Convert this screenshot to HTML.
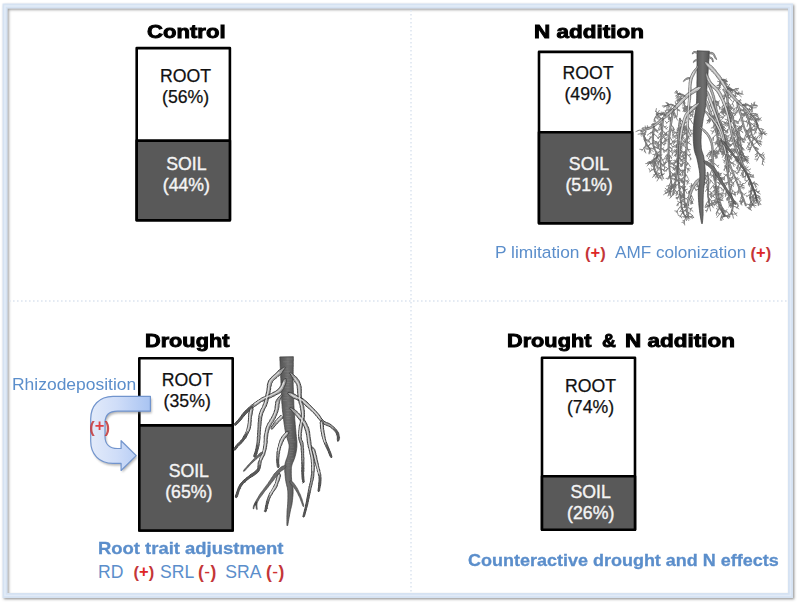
<!DOCTYPE html>
<html><head><meta charset="utf-8">
<style>
html,body{margin:0;padding:0;background:#fff;}
body{width:800px;height:606px;position:relative;overflow:hidden;font-family:"Liberation Sans",sans-serif;}
svg.ov{position:absolute;left:0;top:0;}
.t{position:absolute;white-space:nowrap;line-height:1;}
.lbl{font-size:17.7px;color:#111;text-align:center;line-height:21px;-webkit-text-stroke:0.25px #111;}
.lblw{color:#f4f4f4;-webkit-text-stroke:0.4px #f4f4f4;}
.title{font-weight:bold;font-size:18.5px;color:#000;-webkit-text-stroke:0.9px #000;transform-origin:0 0;}
.blue{color:#5b8ecb;font-size:16.9px;}
.b{font-weight:bold;font-size:17px;transform-origin:0 0;-webkit-text-stroke:0.3px #5b8ecb;}
.red{color:#c43638;font-weight:bold;font-size:16.5px;}
.red i{font-style:normal;position:relative;top:-1.6px;color:#de2626;}
.red u{text-decoration:none;font-weight:normal;color:#d03030;}
</style></head><body>
<svg class="ov" width="800" height="606" viewBox="0 0 800 606">
<defs><filter id="fsh" x="-2%" y="-2%" width="104%" height="104%"><feDropShadow dx="1.3" dy="1.3" stdDeviation="1" flood-color="#555" flood-opacity="0.6"/></filter></defs>
<rect x="5" y="6" width="785.5" height="589.5" fill="none" stroke="#d5e2f2" stroke-width="5" filter="url(#fsh)"/>
<rect x="5" y="6" width="785.5" height="589.5" fill="none" stroke="#e2ebf7" stroke-width="1.6"/>
<g stroke="#dbe4ef" stroke-width="1.5" stroke-dasharray="1.6 2.4" fill="none">
<path d="M411 10V594"/><path d="M9 301H789"/>
</g>
<g id="boxes" stroke="#000" stroke-width="2.6" stroke-linejoin="round">
<rect x="136.7" y="48.1" width="93.2" height="172.1" fill="#fff"/>
<rect x="136.7" y="140.6" width="93.2" height="79.6" fill="#595959"/>
<rect x="539" y="51.9" width="93.1" height="171.3" fill="#fff"/>
<rect x="539" y="132.2" width="93.1" height="91" fill="#595959"/>
<rect x="139.3" y="358.3" width="93.4" height="172.2" fill="#fff"/>
<rect x="139.3" y="425.4" width="93.4" height="105.1" fill="#595959"/>
<rect x="542" y="357.7" width="93" height="172" fill="#fff"/>
<rect x="542" y="476.2" width="93" height="53.5" fill="#595959"/>
</g>
<g id="arrow">
<defs>
<linearGradient id="ag" x1="90" y1="0" x2="150" y2="0" gradientUnits="userSpaceOnUse">
<stop offset="0" stop-color="#e3ebfa"/><stop offset="0.45" stop-color="#cfddf8"/><stop offset="1" stop-color="#a9c4f2"/>
</linearGradient>
<filter id="ash" x="-20%" y="-20%" width="150%" height="150%"><feGaussianBlur stdDeviation="1.3"/></filter>
</defs>
<path id="ap" d="M150.4 396.3H113C99 396.3 90.7 406 90.7 419V441C90.7 454 99 463.4 113 463.4H121.1V470.5L136.2 455.6L121.1 440.7V448.5H117.5C109.5 448.5 105 444 105 436.5V423C105 415.5 109.5 411.2 117.5 411.2H150.4Z" fill="#777" opacity="0.55" transform="translate(1.2 2)" filter="url(#ash)"/>
<path d="M150.4 396.3H113C99 396.3 90.7 406 90.7 419V441C90.7 454 99 463.4 113 463.4H121.1V470.5L136.2 455.6L121.1 440.7V448.5H117.5C109.5 448.5 105 444 105 436.5V423C105 415.5 109.5 411.2 117.5 411.2H150.4Z" fill="url(#ag)" stroke="#7194cd" stroke-width="1.2" stroke-linejoin="round"/>
</g>
<linearGradient id="tgN" x1="694" y1="0" x2="710" y2="0" gradientUnits="userSpaceOnUse"><stop offset="0" stop-color="#545454"/><stop offset="0.55" stop-color="#707070"/><stop offset="1" stop-color="#525252"/></linearGradient><g id="rootN"><path d="M683.8 98.9L684.3 102.6M684.3 102.6L684.9 107.1M684.8 105.9L687.3 107.1M683.8 98.9L680.8 99.2M680.8 99.2L677.9 100.4M680.4 99.8L679.2 102.4M678.7 100.2L677.6 101.4M679.6 100L678.9 98.1M683.8 98.9L683.4 102M683.4 102L683 105.8M683.3 103.4L685.3 105.2M683.8 98.9L680.5 99M680.5 99L677.3 100.1M681.5 99.4L680.1 96.7M683.8 98.9L681.3 99.3M681.3 99.3L678.8 100.3M680.3 99.9L679.2 101.2M682 99.4L680.8 100.4M683.8 98.9L681.8 99.2M681.8 99.2L679.8 100M681.8 99.5L680.3 101.7M681.4 99.6L680.2 101.5M680.5 99.8L680.2 97.7M683.8 98.9L684.1 101.4M684.1 101.4L684.5 104.5M684.2 101.9L685.4 103M681.6 101.2L679.3 100.1M679.3 100.1L677 99.8M677.9 100.1L675.6 101.2M679.4 103.5L677.5 103.5M677.5 103.5L675.6 104M676 104L675.2 102.1M678.1 103.7L677.7 101.4M677.3 105.8L677.3 109.9M677.3 109.9L677.4 115M677.3 109L679.8 110.3M677.3 109.9L679.8 111M675.1 108L672 108.7M672 108.7L668.9 110.3M671.3 109.4L670 111.6M670.4 109.7L669.4 112.5M670.2 109.8L669.6 111.5M672.8 110.1L674.7 113.2M674.7 113.2L676.6 117.3M674.4 113.1L673.3 115.1M676.1 116.3L675 117.5M670.4 112.3L667.8 112.3M667.8 112.3L665.3 113.2M666.3 113L665.2 110.4M668.8 112.6L668.1 109.8M666.6 112.9L665 114.5M667.9 114.4L669.5 117.6M669.5 117.6L671.1 121.6M669.5 118.1L671.2 117.5M669 116.8L668.5 119.7M666.6 115.5L664.5 114.1M664.5 114.1L662.4 113.5M665.1 114.8L663.7 115.2M662.9 113.8L660.8 114.6M663.1 118.5L660.9 118.7M660.9 118.7L658.7 119.6M660.6 119.1L660.1 117.2M660.8 119L658.7 116.8M660 121L660.6 124.8M660.6 124.8L661.1 129.5M660.4 123.9L662.7 125.7M660.9 127.4L662.6 128M660.6 125.8L662.6 126.2M655.8 124.5L654.2 123.8M654.2 123.8L652.6 123.7M654.9 124.3L652.1 124.7M654 124L651.9 125M653.7 124L651.3 125M653.4 126.2L653.6 130.3M653.6 130.3L653.7 135.4M653.6 131.6L650.7 132.5M653.7 133.8L652.5 135.1M653.5 129.2L655.8 130.6M650.5 127.7L648.7 127.3M648.7 127.3L646.9 127.4M647.4 127.5L647.4 125.7M648.8 128.4L645.6 127.7M645.6 127.7L642.5 128M643.6 128.1L641.9 128.6M645.4 128.2L645.2 126M643.4 130.2L642.7 132.9M642.7 132.9L641.9 136.3M642.6 133.5L640.7 134.8M642.8 132.9L645.5 134.5M642 130.7L640 130.2M640 130.2L637.9 130.5M638.6 130.5L635.9 131.6M682.5 126.5L680.3 128.9M680.3 128.9L678 132.2M678.9 131.1L676.6 130M679.4 130.5L679 132.2M682.5 126.5L685.8 128.4M685.8 128.4L689 131.3M685.5 128.7L686.6 130.2M684.9 128.2L686.9 127.1M686.3 129.2L687.8 128.6M682.5 126.5L684.4 128.5M684.4 128.5L686.3 131.2M684.2 128.6L686.8 128.3M685.3 129.9L684.2 132.5M682.5 126.5L680 128.4M680 128.4L677.5 131.1M681.1 127.8L679.2 125.8M682.5 126.5L680 127.7M680 127.7L677.5 129.7M678.6 129.1L678.2 130.7M682.5 126.5L684.8 127.8M684.8 127.8L687.1 129.8M685.3 128.5L687 126.9M683.7 127.3L685.3 125.3M682.5 126.5L680.9 127.8M680.9 127.8L679.3 129.6M681.2 127.8L681.6 130.5M679.6 129.3L678.2 128.5M682.5 126.5L680.3 128.9M680.3 128.9L678.1 132.1M681.2 128.2L678.6 128.1M682.5 126.5L683.8 129.3M683.8 129.3L685 132.9M683.6 129.2L686.2 129M683.6 129.3L682.5 131.3M682.5 126.5L680.3 127.5M680.3 127.5L678.1 129.2M678.7 128.8L677.2 128.2M681.6 131.4L683.9 132.5M683.9 132.5L686.3 134.4M683 132.3L684.8 134.8M681 135L677.9 136.8M677.9 136.8L674.8 139.7M678 137.3L676.2 136M678.8 136.6L677.6 134.8M676.5 138.4L674.8 137.3M680.5 139.2L677.3 140.5M677.3 140.5L674.2 142.7M675 142.2L673.3 144.7M680.3 140.7L683 143.7M683 143.7L685.6 147.8M681.9 142.8L680.5 145.4M682.6 143.8L683.1 146.3M682.2 143.2L681 145.2M680 143.8L676.7 144.6M676.7 144.6L673.4 146.4M676.7 145.1L676 147.8M678.2 144.5L677.1 142.2M677.8 144.7L677.3 143.2M679.8 147L677.7 148.6M677.7 148.6L675.5 150.8M678 148.6L676.4 147.1M678.1 148.6L676.6 147.7M679.6 148.6L682.2 151.1M682.2 151.1L684.8 154.5M681.7 150.9L680.9 153M682.8 152.2L684.8 151.8M681.2 150.5L681.7 153.3M679.5 150.3L677.1 151M677.1 151L674.7 152.5M676.6 151.6L674.7 149.6M676.7 151.5L675.7 150.1M676.7 151.5L676.1 153.1M679.3 151.9L676.9 153.1M676.9 153.1L674.5 155.1M675.5 154.5L675.5 156.2M676.8 153.6L674.9 151.1M679 155L682.3 156.5M682.3 156.5L685.5 159.1M684.3 158.3L685.5 155.7M681.6 156.6L684.3 155.2M683.7 157.9L684 159.5M678.8 156.5L676.8 158.9M676.8 158.9L674.8 162.2M676.1 160.3L676.1 162.9M678.7 158.1L680.4 159.2M680.4 159.2L682.2 160.9M680.7 159.8L680.9 161.7M681.4 160.3L683 163M678.3 161.2L676.1 161.8M676.1 161.8L674 163.2M676.6 162L674.5 160.2M676.4 162.1L673.7 160.6M675.4 162.5L673.5 164.4M677.9 164.2L676.3 166.4M676.3 166.4L674.7 169.3M676.4 166.7L676.8 169.5M675.6 167.9L676.2 170.2M677.7 165.8L679.3 168.3M679.3 168.3L680.9 171.6M680.1 170.1L679.6 172.6M680.4 170.6L683.5 170.4M677.2 170.4L674.4 173.1M674.4 173.1L671.6 176.9M674.3 173.8L674.8 175.9M676.7 173.5L673.3 174.8M673.3 174.8L669.8 177.2M673.5 175.2L672.2 174.3M676 178.3L677.6 180.4M677.6 180.4L679.2 183.2M677 179.9L679.1 180.1M675.7 180L677.7 181M677.7 181L679.7 182.7M678.7 182L679.4 183.5M678.6 181.9L679.5 183.5M675.4 181.8L673.6 184M673.6 184L671.8 187M672.7 185.7L672.3 187.9M672.6 185.8L672.2 188.5M672.4 186.1L670.4 185.9M674.4 187.1L671.5 188.1M671.5 188.1L668.6 189.9M671.8 188.4L671.4 189.9M672.1 188.2L670 185.9M674.1 188.8L676 191.1M676 191.1L677.9 194.2M675.5 190.8L674.3 193.4M677 192.9L676.1 195.7M673.9 190.3L671.3 191.5M671.3 191.5L668.7 193.5M670.1 192.7L668.8 195M671 192.1L670.1 195.2M673 195L671.4 196.4M671.4 196.4L669.8 198.3M671.3 196.7L670.1 195.4M688.8 106.1L686.5 107.4M686.5 107.4L684.2 109.3M687.1 107.3L686.3 109.5M684.9 108.9L682.3 107.9M685.3 108.6L684.3 107.2M688.8 106.1L687.1 107.3M687.1 107.3L685.5 109M687.1 107.6L687.6 110.1M686.1 108.4L686 111.4M687.6 107.2L684.6 106.2M688.8 106.1L690.9 109.5M690.9 109.5L693 114M689.9 108.3L692.5 107.9M688.8 106.1L685.9 108.2M685.9 108.2L683 111.3M684.9 109.6L684.4 111.8M684.9 109.6L683.3 108.8M688.8 106.1L690.8 108.1M690.8 108.1L692.8 110.9M691.8 109.8L694.6 108.8M690.8 108.6L691.4 110.7M690 107.6L691.5 107.1M688.8 106.1L686.3 108.4M686.3 108.4L683.8 111.6M687.4 107.7L685 106.6M688.8 106.1L690.3 109M690.3 109L691.9 112.8M691.2 111.3L690.8 113.3M691.2 111.3L692.7 110.9M690.3 109.3L692.3 108.9M688.8 106.1L686.8 107.5M686.8 107.5L684.9 109.6M687.3 107.5L686.7 109.4M687.7 107.1L686.8 109.5M688.8 106.1L691.1 108.8M691.1 108.8L693.5 112.4M690.3 108.2L689.8 111.3M691.3 109.6L693.2 109M688.8 106.1L686.4 107.1M686.4 107.1L684.1 108.9M684.6 108.6L683.2 107M687.4 106.9L686.3 108.7M688.8 106.1L692 107.4M692 107.4L695.2 109.7M694.1 109.1L695.2 107.6M691.6 107.7L692.2 110M694.1 109.1L696.3 107.9M688.8 106.1L686.7 107.4M686.7 107.4L684.5 109.4M686.7 107.7L684.4 106.7M687.2 107.4L685.8 106.2M687.7 107L687.8 109.2M688.8 106.1L690.8 107.6M690.8 107.6L692.7 109.7M692.3 109.2L693.3 111.5M691.3 108.3L691.3 110.3M688.8 106.1L690.8 108M690.8 108L692.9 110.6M690.2 107.7L691.3 106.7M688.6 107.6L687.1 109.5M687.1 109.5L685.6 112M686.6 110.5L683.9 109.5M687.5 109.2L685 108.9M685.9 111.5L683.4 110.4M688.3 112.4L690.7 113.9M690.7 113.9L693.1 116.1M691.5 114.9L693.3 114.2M691.5 114.9L692.8 117.2M690.3 114L690.7 116.6M688.1 116.9L690.5 119.9M690.5 119.9L693 123.9M689.6 119.1L691.4 118.6M687.8 121.8L684.8 122.6M684.8 122.6L681.7 124.4M685.5 122.8L684.4 124.6M682.9 123.9L682.2 121.7M687.6 125.1L689.5 128.6M689.5 128.6L691.4 133.2M690 130.1L692.1 130.4M687.6 126.7L686.3 128.3M686.3 128.3L684.9 130.5M686.7 127.9L684.1 126.2M687.4 130L689.2 132.8M689.2 132.8L691 136.5M689.9 134.6L692.8 133.7M687.3 133L684.6 133.8M684.6 133.8L681.9 135.3M685.7 133.7L685.1 132.1M685.2 133.9L683 136.1M682.7 135L681.9 137.7M687.2 134.5L688.3 136.5M688.3 136.5L689.5 139M688.1 136.2L687.7 138.1M688.3 136.7L690.8 135.5M688.3 136.7L687.7 139.6M687 137.6L684.9 139.4M684.9 139.4L682.8 142M685 139.7L685.4 142.4M687 139.2L685 141.2M685 141.2L683 144M685.5 141L685.9 142.5M684.7 141.9L685 145.1M684.4 142.2L682.5 140.6M686.8 142.3L688.9 143.1M688.9 143.1L691 144.6M688.2 143L689.6 141.1M686.6 146.9L688 149.2M688 149.2L689.4 152.2M688 149.6L690.2 149.6M686.4 150L684.4 152M684.4 152L682.4 154.7M684.1 152.7L684 155.8M685.1 151.6L685.4 153.6M684.5 152.2L681.9 151.9M686.2 153.1L688.7 155.6M688.7 155.6L691.2 159M688.2 155.4L690.5 154.9M688.3 155.6L690.6 154.1M690.6 158.3L690.2 160M686.1 154.6L683.1 155.3M683.1 155.3L680.1 157M683.9 155.5L683.1 157.4M685.9 157.7L683.4 158.8M683.4 158.8L681 160.7M684.3 158.7L683.4 157M685.6 160.8L688.1 163.4M688.1 163.4L690.5 166.9M687.6 163.2L686.5 165.2M687.3 162.9L687 164.4M687.6 163.3L686.5 166M685.5 162.3L682.7 163.2M682.7 163.2L679.8 165M680.9 164.5L680.3 166.6M682.9 163.5L681.9 166.4M683.2 163.4L682.2 165.1M685.2 166.9L687.4 168.6M687.4 168.6L689.6 171M688.2 169.7L687.6 172.4M687.4 169L688.8 168.2M687.8 169.4L690.1 168.8M685 170L682.3 171.8M682.3 171.8L679.5 174.6M683.6 171.2L681.9 169.5M682.2 172.4L682.8 175.5M683 171.7L682.6 174.4M684.8 173.1L686.5 175.3M686.5 175.3L688.2 178.3M685.7 174.4L685.2 177M684.6 176.2L683 178.3M683 178.3L681.4 181.1M681.9 180.4L682.7 183.5M681.8 180.5L682.2 182.2M684.4 179.3L686.7 181M686.7 181L689 183.5M687.7 182.3L689.2 180.8M687.4 182.1L687.1 184.4M686.4 181.2L688.8 179.6M684.1 184L681.9 186.5M681.9 186.5L679.6 190M682.3 186.5L682.5 188.8M680.7 188.6L679 187.7M682.1 186.7L679.7 186M684 188.5L685.5 190.7M685.5 190.7L687 193.5M684.9 190L683.4 192.4M685 190.2L687.4 189.2M684.1 193.3L682 195.8M682 195.8L679.9 199.1M682.6 195.3L680.5 195.2M682.6 195.3L683.8 197.6M681.1 197.3L682.5 199.6M684.1 195.1L682.1 196M682.1 196L680.1 197.6M682.6 196.1L680.1 195M682.8 195.9L681.1 195.1M682.8 195.9L682.1 198.2M684.3 198.6L682.9 200.4M682.9 200.4L681.5 202.9M682 202.1L679.8 202.5M682.6 201.2L680.6 200.5M682.8 200.8L683.9 202.3M684.6 201.9L685.7 203.6M685.7 203.6L686.9 206M686.6 205.4L688.9 205.4M685.9 204.2L687.6 203.4M685.8 204L688.7 204.5M684.9 206.1L682.3 208.4M682.3 208.4L679.7 211.6M682.6 208.5L680.3 207.7M721 80L724.2 80.3M724.2 80.3L727.3 81.5M725 80.9L725.5 82.5M725.4 81L726.2 78.9M721 80L719.9 82.2M719.9 82.2L718.8 85.1M719.5 83.3L720.5 85.8M721 80L724.2 81.5M724.2 81.5L727.3 84M724.5 82.2L726.4 81M721 80L720.1 83.5M720.1 83.5L719.1 88M719.5 86.4L721 87.7M719.9 84.9L716.9 85.7M720.5 82.3L721 83.7M721 80L723.2 81.1M723.2 81.1L725.4 82.8M723.8 81.8L723.7 84.3M723 81.3L722.9 83.6M722.6 81L723.5 79.1M721 80L720.2 82.8M720.2 82.8L719.3 86.2M719.5 85.4L717.5 85.4M720.5 81.8L717.6 81.3M721.9 81.3L725 82.8M725 82.8L728.1 85.1M725.2 83.3L725.2 85.5M725 83.2L726.6 80.8M724.6 83L725.9 84.5M722.6 82.6L720.5 85.5M720.5 85.5L718.4 89.4M719.3 88L720.2 89.7M719.2 88L717.3 87.2M724.9 86.4L726.9 86.3M726.9 86.3L728.9 86.7M728.3 86.7L729.6 84.3M727.1 86.6L729.3 87.7M725.9 86.5L726.8 84.3M726.8 89.1L726 92.1M726 92.1L725.2 96M725.5 94.8L723.2 95.3M726.2 91.7L727 93.3M727.7 90.2L730.1 90.2M730.1 90.2L732.5 91M731.6 90.8L733.3 92.1M729.2 90.4L729.7 88.7M730.8 90.7L731.5 89.2M729.6 92.7L728.5 95.7M728.5 95.7L727.3 99.7M728.7 95.6L727 95.5M731.8 95.2L733.7 95.1M733.7 95.1L735.6 95.6M733.6 95.4L734.3 96.9M735 98.9L733.5 101.5M733.5 101.5L731.9 104.8M732.5 103.7L733.7 106.1M737.3 101.2L739.2 101.6M739.2 101.6L741.1 102.5M739.5 101.9L741 100.4M738.8 101.7L739.3 100.3M738.8 101.8L740.6 99.4M738.5 102.4L737.4 105.6M737.4 105.6L736.3 109.7M737.9 104.5L738.9 107.4M737 107.5L734.4 108.4M742.3 105.5L744.3 105.6M744.3 105.6L746.2 106.3M744.3 105.9L745.6 103.2M745.6 106.2L746.8 103.6M743.6 106.6L744.1 110M744.1 110L744.6 114.2M744.4 112.9L742.8 115.5M744.4 113L746.7 114.2M747 110.1L749.3 109.4M749.3 109.4L751.6 109.6M749.2 109.8L749.6 108.1M749.5 109.8L751.5 112M748.9 109.9L749.2 108.4M749 112.6L747.6 114.8M747.6 114.8L746.3 117.7M747.7 114.9L748.8 116.3M750 113.9L753.1 113.4M753.1 113.4L756.2 113.8M753.5 113.9L756 115.1M755.5 113.8L758.2 115.6M755.3 113.8L757.4 114.5M751.9 116.6L750.4 118.3M750.4 118.3L748.9 120.6M751.1 117.6L749 116.5M750.3 118.8L748.7 117.9M750.3 118.7L751.2 120.5M754.3 120.1L756.5 120.3M756.5 120.3L758.6 121.1M756 120.5L758.1 118.4M757.4 125L756.9 127.3M756.9 127.3L756.4 130.2M756.7 128.7L754.9 128.8M757.2 126.5L754.2 126.9M756.6 129.4L754.6 130M739.1 108.6L741.6 109.3M741.6 109.3L744.2 110.9M742.7 110.2L744.9 108.7M739.1 108.6L737.3 111M737.3 111L735.5 114.3M737.9 110.4L737.9 112.8M737.7 110.9L734.9 111M739.6 110.3L742 110.4M742 110.4L744.4 111.2M742.7 110.9L743.4 108.8M743.7 111.1L744.8 113M740.6 113.5L743.3 113.9M743.3 113.9L746 115.1M744.8 114.7L745.3 112.7M742.5 114.1L743.4 115.8M741.4 116.6L739.7 119.2M739.7 119.2L738.1 122.6M739.9 119.4L740.1 121.2M742.4 121.1L745 121.3M745 121.3L747.5 122.3M746.4 122L746.6 120.5M743.1 124.1L741.3 125.8M741.3 125.8L739.5 128.2M740.3 127.3L739.7 129.1M741 126.5L741 128.5M741.5 125.9L741.7 127.5M743.5 125.6L741.8 126.7M741.8 126.7L740.1 128.5M741.5 127.3L740.6 129.5M740.7 128L739.5 126.5M741 127.7L738.9 125.7M745.1 129.9L747.2 130.3M747.2 130.3L749.3 131.4M747.2 130.6L747.8 133.1M747.4 130.7L748.8 129.2M746.7 130.4L747.4 131.7M746.4 132.7L745.3 135.8M745.3 135.8L744.3 139.6M745.5 135.6L747.1 136.9M744.8 137.9L745.7 140.3M748.4 136.7L751.6 137.5M751.6 137.5L754.8 139.3M753 138.6L755.6 136.6M752.8 138.5L753.2 140.5M750.6 141.2L748.6 144.4M748.6 144.4L746.6 148.5M749.4 143.5L747.6 142.7M748 146L748.9 148M749.4 143.5L750 145.8M752.3 144.1L750.9 147.6M750.9 147.6L749.5 151.9M750.5 149.2L747.8 149.7M751 147.5L748.9 148M750.6 148.9L749.1 149.2M754 147L756.3 147.6M756.3 147.6L758.5 148.9M756 147.8L757.8 149.6M755.4 147.6L755.9 150.7M756.9 148.2L758.1 149.6M757.1 151.2L757.1 153.4M757.1 153.4L757.2 156.2M757.2 155.4L755.4 157M757.2 155.7L755.4 156.9M757.1 153.6L755.1 154.8M759.1 153.9L761.6 154.6M761.6 154.6L764 156M761.6 155L763.3 152.5M763.4 155.8L764.7 158.2M763.2 155.7L764.2 154.2M760 155L758.4 157.6M758.4 157.6L756.7 161M757.8 159.1L754.9 159.2M763.3 159.2L762.7 161.5M762.7 161.5L762.2 164.5M762.4 163.3L763.4 165.3M763 160.7L764.4 162.2M725.5 107.1L728.1 109.1M728.1 109.1L730.8 112M727.5 108.9L729.6 107.6M725.5 107.1L724.4 109.7M724.4 109.7L723.3 113M723.9 111.3L724.7 113.2M725.5 107.1L728.4 107.3M728.4 107.3L731.3 108.4M730.7 108.3L732.2 110.3M728.3 107.7L729.4 106.3M729.8 108L730.5 105.7M725.5 107.1L723.8 110M723.8 110L722.2 113.9M724.3 109.4L724.4 112.1M723 112.2L723.5 114.8M724.4 109.3L721.6 109M725.5 107.1L727.4 107.4M727.4 107.4L729.3 108.4M726.8 107.5L727.6 109.5M728.5 108.1L730.3 105.6M725.5 107.1L723 109.3M723 109.3L720.6 112.5M724.2 108.5L722.6 107.5M721.6 111.4L721.4 113.2M725.5 107.1L728.5 107.6M728.5 107.6L731.5 109.1M728.6 108.1L729.4 109.7M725.5 107.1L724.8 109.7M724.8 109.7L724.1 113.1M724.3 112.2L726 114M724.5 111.4L722.1 112.5M724.6 110.8L727.1 112.3M725.5 107.1L728.2 109.5M728.2 109.5L730.9 112.9M729.3 111.2L730.4 110.1M728 109.8L727.3 112.5M727.1 108.9L726.6 112M725.5 107.1L723.9 109.3M723.9 109.3L722.3 112.2M723.8 109.8L721.4 109.7M723.3 110.6L723.4 113M725.5 107.1L728.2 107.4M728.2 107.4L730.9 108.5M728.8 107.9L729 105.5M725.5 107.1L724.1 109.6M724.1 109.6L722.8 112.9M723.7 111L721.1 111.6M725.5 107.1L728 108M728 108L730.5 109.7M727.9 108.3L729.8 106.8M727.5 108.2L729 106.2M729.2 109L731.3 107.7M725.5 107.1L723.8 108.5M723.8 108.5L722.2 110.5M724.6 108L724.6 109.6M724.1 108.6L721.9 108.1M726.9 111.5L729.2 112.6M729.2 112.6L731.5 114.4M729.7 113.2L731.7 115.7M727.4 113L724.6 115.7M724.6 115.7L721.7 119.5M725 115.7L722.9 114.6M723.1 117.9L720.1 117.2M723.6 117.3L721.3 116.1M728.2 116L730.1 118M730.1 118L732.1 120.8M729.9 118.1L731.6 118M729 119L727.1 121M727.1 121L725.2 123.7M726 122.7L724.3 122.4M725.8 123L724.2 121.9M728 120.3L725.1 119.2M729.7 122.2L728.2 124M728.2 124L726.7 126.3M727.8 124.9L728.5 127.5M728.6 123.7L727 123.3M730.3 125.5L732.7 127.9M732.7 127.9L735.2 131.1M731.6 127L731.4 128.7M730.6 127.1L727.7 129.4M727.7 129.4L724.8 132.6M727.5 130.1L727.7 133.1M731.1 130.3L733.6 132M733.6 132L736.1 134.4M734.2 132.9L734.6 135.2M733.7 132.5L736.3 130.7M731.4 131.9L733.2 132.4M733.2 132.4L735.1 133.5M733.1 132.7L734.2 135.6M733.4 132.8L734.5 135.6M733.6 132.9L734.5 131.3M732 135L730.6 137.9M730.6 137.9L729.2 141.7M730.3 139.2L731.3 141.5M730.6 138.4L731.1 141.5M730.9 137.6L732.8 139.9M733.1 139.7L735.2 140.7M735.2 140.7L737.3 142.3M734.8 140.7L736.9 138.9M736.7 141.9L737.4 144.5M733.5 141.1L736 142.4M736 142.4L738.6 144.4M736.8 143.3L737.9 141.2M733.9 142.6L732 143.8M732 143.8L730 145.6M731 144.9L730 146.8M732.8 143.5L731.6 145.4M734.8 145.7L736.7 145.8M736.7 145.8L738.6 146.5M737.1 146.2L737.8 147.8M736 149L733.6 151.3M733.6 151.3L731.3 154.6M734.4 150.8L731.8 150.1M734.7 150.6L735 152.6M736.5 150.3L739.3 152.7M739.3 152.7L742.1 156.2M738.8 152.7L739.2 154.2M738.2 154.3L740.8 154.5M740.8 154.5L743.4 155.4M742.2 155.1L744.6 156.9M739.5 157.2L738.1 159.3M738.1 159.3L736.7 162M737.4 160.8L735.9 160.9M738.2 159.5L735.2 159.9M737.3 160.9L737.2 163.5M740.8 160L744.2 160M744.2 160L747.5 161M746.2 160.8L747.1 158.9M744.8 160.6L746 158.4M742.7 160.3L745 161.7M742.8 164.3L740.9 166M740.9 166L738.9 168.4M740.4 166.9L740.1 168.8M739.6 167.7L739.9 170.4M744 167L747.1 169.3M747.1 169.3L750.2 172.7M747.8 170.5L750.6 168.9M745.7 168.5L748.2 166.9M744.7 168.5L743.1 170.8M743.1 170.8L741.4 173.7M742.2 172.5L742.3 175.1M743.2 170.9L741 170M746.7 173L749.2 173.7M749.2 173.7L751.6 175.1M750.2 174.5L751 176.7M747.4 174.5L749.3 174.3M749.3 174.3L751.2 174.6M748.3 174.5L749.6 176.3M749.3 178.8L746.9 180.9M746.9 180.9L744.6 183.7M747.2 181L745.6 180.5M751 183L753.3 183.6M753.3 183.6L755.6 184.9M755.1 184.7L756.6 186.9M754.9 184.6L755.6 187.5M752.3 186.4L751.8 188.8M751.8 188.8L751.2 191.8M751.9 188.6L752.7 190.6M751.9 188.5L753.3 189.7M753.6 189.9L755.5 190.4M755.5 190.4L757.3 191.5M755.4 190.6L756.9 189.5M756.1 191L758.4 193M755 190.5L756.9 188.7M754.7 193.1L753.7 195M753.7 195L752.7 197.5M753.2 196.5L750.5 197.3M752.9 197L749.9 197.2M756 197L758.3 197.6M758.3 197.6L760.6 199M759 198.3L759.5 200M757.2 197.5L758.8 196.2M756.7 199.5L754 202.1M754 202.1L751.4 205.6M753.1 203.7L751.4 202.8M757 202L758.6 203.1M758.6 203.1L760.3 204.8M758.5 203.2L758.3 205.7M758.6 203.3L758.8 205.1M757.8 202.7L758.1 204.4M719.2 124.2L722 126.8M722 126.8L724.8 130.3M722.4 127.7L724.6 127.1M719.2 124.2L717.1 126.8M717.1 126.8L715 130.3M715.7 129.2L717.1 131.3M717.6 126.6L718.1 128.1M719.2 124.2L721.1 125.1M721.1 125.1L723 126.5M720.3 124.9L721.7 122.2M719.2 124.2L718.3 127.1M718.3 127.1L717.4 130.7M718.5 126.8L720 128.7M719.2 124.2L718.1 128.2M718.1 128.2L717.1 133.2M717.7 130.8L718.4 132.1M719.2 124.2L720.9 125.4M720.9 125.4L722.6 127M722.1 126.7L723 129.2M721.5 126.1L721.8 128.8M722.2 126.7L721.9 128.9M719.2 124.2L717.1 125.8M717.1 125.8L714.9 128.2M715.7 127.5L715.9 129.3M716.7 126.5L714.8 124M719.2 124.2L718.3 127.5M718.3 127.5L717.4 131.6M717.7 130.4L715.5 131.9M719.2 124.2L721.9 125.3M721.9 125.3L724.6 127.3M723.2 126.5L723.4 129M724.1 127L725.2 128.7M719.8 125.8L718.5 129M718.5 129L717.1 133M719 127.9L721.1 130.2M717.8 131.2L715 132M721 128.9L724.4 130M724.4 130L727.9 132.1M726.9 131.6L728.4 129.7M722.5 133.5L725.3 135.6M725.3 135.6L728.1 138.7M724.6 135.4L725.9 133.8M725.3 136L724.9 137.7M723 135L722.1 137.7M722.1 137.7L721.1 141M721.9 138.5L722.9 140.2M722.2 137.6L723.4 139.6M721.9 138.4L723.1 139.4M723.8 138.1L726.6 139.1M726.6 139.1L729.4 140.9M726.4 139.4L728.2 137.7M725.2 138.8L726.8 137.5M727.2 139.8L727.3 141.7M724.4 141.1L727.6 142.4M727.6 142.4L730.8 144.7M726.5 142.3L726.5 144.9M724.7 142.6L723 144.8M723 144.8L721.2 147.6M722.1 146.3L720 144.8M722 146.5L719.1 146.1M723.6 144.3L722 143.8M725 144.2L726.9 146.3M726.9 146.3L728.9 149.2M727.3 147.2L728.9 146.7M727.4 147.3L726.4 149.3M726 149L724.2 151.4M724.2 151.4L722.3 154.6M723.3 153.1L722.9 155.8M724.1 151.8L721.7 152.2M723.3 153.2L724 154.7M726.7 152.1L725.7 155M725.7 155L724.7 158.7M725.4 156.2L726.1 158.8M727.4 155.3L729.9 156.1M729.9 156.1L732.4 157.7M729.1 156.1L731.2 154M729.1 156.1L730.5 154.9M730.4 156.7L731.7 155.2M727.8 156.9L725.8 159.2M725.8 159.2L723.8 162.2M725 160.6L725 163.6M724.7 161L723 159.9M729.1 161.8L732.4 162.9M732.4 162.9L735.8 165.1M732.9 163.7L734 166.5M732.2 163.4L734.1 161.3M730.8 162.7L731.9 163.8M729.5 163.4L728.5 165.7M728.5 165.7L727.5 168.6M728.2 166.8L726.4 167M728.7 165.4L729.1 166.9M727.8 167.6L726.2 168.3M730.5 166.5L728.3 168.5M728.3 168.5L726.2 171.3M727.4 169.9L727.9 172.3M729 168.2L729.5 170.5M728.1 169.2L727.4 172.2M731.7 169.6L734.8 171.4M734.8 171.4L737.9 174.3M734.9 172.1L735.9 170.8M736.6 173.3L739.3 172M736.4 173.2L737.8 171.8M733.5 174L732.2 177.9M732.2 177.9L730.9 182.7M731.2 181.7L732.2 183.5M732.6 177.1L733.4 178.8M732.6 177.1L730.2 178.1M734.8 177L737.8 179.2M737.8 179.2L740.8 182.3M740 181.6L740.2 183.9M736.4 178.4L737.7 177.1M737.4 179.3L739.1 178.6M736 180L733.4 182.8M733.4 182.8L730.8 186.5M731.6 185.5L730.8 188.6M733.5 183.1L732.3 182.1M733.6 183L733.7 185.1M737.9 184.6L741 184.8M741 184.8L744.1 185.9M741.7 185.4L743.6 183.3M741.9 185.4L742.5 184M741.8 185.4L742.8 183.5M738.5 186.2L741.5 186.6M741.5 186.6L744.6 188M740.7 186.8L741.1 188.3M742.6 187.4L743.2 189M739.1 187.8L738.3 190.8M738.3 190.8L737.4 194.5M738.1 191.8L739 193.4M738.1 191.8L735.1 192.5M738.4 190.7L740.4 193M740.9 192.3L742.7 193.3M742.7 193.3L744.5 195M744 194.6L746.2 193.1M742 195L741.2 197.5M741.2 197.5L740.4 200.7M741.1 198L742.5 199.5M743.4 198.8L741.9 200.7M741.9 200.7L740.4 203.4M741.2 202.2L741.9 205.1M742.5 200.1L742.7 201.7M741.5 201.8L739.5 201.1M744.1 200.6L742.5 201.8M742.5 201.8L741 203.5M741.7 202.8L741 204.4M742.3 202.3L739.5 201.6M745.2 203.8L748.2 204.4M748.2 204.4L751.2 206M750.6 205.8L751.1 207.2M722.4 138.5L720.8 141.6M720.8 141.6L719.1 145.5M720.7 142.1L721.5 143.7M720.1 143.4L720.3 145.5M722.4 138.5L724.4 140.2M724.4 140.2L726.4 142.6M725.7 141.9L724.9 144.1M725.9 142.1L728.6 140.8M725.9 142.1L727.3 141.6M722.4 138.5L720.3 141.5M720.3 141.5L718.1 145.4M719.3 143.5L717.6 143M719.2 143.6L717.6 143.6M722.4 138.5L724.8 138.6M724.8 138.6L727.1 139.5M725.8 139.2L726.6 136.3M725.1 139.1L725.9 137.7M726.1 139.3L727.3 141.2M722.4 138.5L719.9 140.8M719.9 140.8L717.3 144M718 143.3L718 146.4M722.4 138.5L720.3 140.8M720.3 140.8L718.2 144M718.6 143.5L716.1 143.4M722.4 138.5L724.5 140.7M724.5 140.7L726.6 143.8M725.2 142L724.5 144.2M726.1 143.2L726.1 145.2M722.4 138.5L724.5 140.7M724.5 140.7L726.7 143.6M724 140.4L725.5 139.5M722.4 138.5L721.3 140.4M721.3 140.4L720.3 142.8M720.5 142.3L717.5 141.4M721.6 140.1L719.8 140.3M722.4 138.5L724.2 140.2M724.2 140.2L726 142.5M724.1 140.3L723.6 142.2M723.8 140L723 142.2M722.4 138.5L720.8 139.6M720.8 139.6L719.1 141.3M720 140.6L717.6 139.2M721 139.7L718.8 138.7M722.4 138.5L725.2 140.5M725.2 140.5L727.9 143.5M725.7 141.5L725.6 143.6M723.2 141.7L724.9 143M724.9 143L726.5 144.9M724.2 142.7L724.2 145.6M725.6 144L727.3 142M726.1 144.5L728.4 142.9M724 145L722 146.7M722 146.7L720 149.1M721.7 147.4L721.3 150M722.6 146.4L720.5 144.8M725 149.4L723.9 151.2M723.9 151.2L722.7 153.6M724.3 150.7L724.2 153.1M723.8 151.6L721 151.1M725.4 150.9L727.1 152.6M727.1 152.6L728.8 154.9M727.4 153.2L729.5 151.5M726.3 155.5L728.3 155.9M728.3 155.9L730.2 156.9M729.5 156.6L731.2 158.8M729.3 156.5L730.4 158.8M729.6 156.7L731.3 158.7M726.8 158.5L729.4 160.5M729.4 160.5L732 163.4M728.5 160.1L729.5 158.9M727.3 163L726 164.7M726 164.7L724.8 167M725.7 165.5L726.2 167M725.3 166.1L725.2 168.1M727.5 166L725.7 167.6M725.7 167.6L723.8 169.8M724.7 168.9L724.2 170.7M726.2 167.4L724.5 165.9M726.4 167.1L726.6 169.6M727.7 170.5L729.7 171.8M729.7 171.8L731.6 173.7M730.7 173L730.2 175.5M727.9 173.5L725.7 175.3M725.7 175.3L723.5 177.8M724.3 177L724.4 179.1M726.2 175.1L723.7 174M726.6 174.8L727.2 176.9M728.2 176.5L729.9 178.3M729.9 178.3L731.6 180.9M730.7 179.7L729.7 182.3M731.1 180.3L732.4 179.3M729.5 178.2L730.1 180.5M728.7 181L727 183.2M727 183.2L725.4 186.1M727.8 182.5L725.6 182.6M729.1 184.1L731.4 184.9M731.4 184.9L733.7 186.4M731.3 185.2L731.7 188.4M729.8 188.5L732.7 190.4M732.7 190.4L735.7 193.2M734.5 192.3L734.9 194.6M730.3 191.6L728.9 195.3M728.9 195.3L727.5 200M729.1 195.2L726.3 194.9M728.3 197.7L726.7 198.3M729.6 193.8L728.1 194.3M731.1 194.9L729.8 198.3M729.8 198.3L728.5 202.7M728.9 201.4L730.6 203.8M732.3 199.7L735.3 201.3M735.3 201.3L738.2 203.8M733.8 200.7L734.8 202.6M732.9 202.6L731.8 204.8M731.8 204.8L730.6 207.6M731.5 205.7L728.8 204.9M731.5 205.7L729.7 205.4M732.9 206L735.9 207M735.9 207L738.9 208.9M737.1 208L738.2 206.7M736.4 207.7L738.4 205.7M732.2 209.9L734.5 212.4M734.5 212.4L736.9 215.9M735.3 213.9L737 213M731.7 211.6L732.5 214.5M732.5 214.5L733.4 218.2M732.4 214.3L735.2 214M732.2 213.4L730.9 214.9M731 214L729.1 214.5M729.1 214.5L727.1 215.5M729.8 214.5L728 216.2M729.2 214.7L727.5 212.2M730 214.4L729.4 216.7M712.6 150.8L715 153.9M715 153.9L717.5 157.9M716.8 156.9L716 158.7M714.6 153.8L716.6 153.4M715.5 155.1L715.4 156.6M712.6 150.8L711.1 152.4M711.1 152.4L709.7 154.6M711.7 152L709.8 150.9M712.6 150.8L714.3 153.2M714.3 153.2L716.1 156.3M714.7 154.1L717.6 153.1M712.6 150.8L709.4 152.9M709.4 152.9L706.2 156M708.3 154.3L707.3 156.8M712.6 150.8L715.4 151.6M715.4 151.6L718.2 153.3M716.5 152.5L717.4 155.1M714.9 151.8L716.1 150.7M717.1 152.8L718.5 150.6M712.6 150.8L711.2 152.5M711.2 152.5L709.8 154.7M710.9 153.1L710.7 154.8M712.6 150.8L715.5 151.6M715.5 151.6L718.5 153.3M717.6 152.9L718.8 151.4M715.6 152.1L716.6 150.1M712.6 150.8L710.3 151.8M710.3 151.8L708 153.4M711.3 151.5L711.1 153.2M712.6 150.8L714.9 153M714.9 153L717.2 156.1M713.9 152.4L714.7 154.9M712.6 150.8L710.5 154.3M710.5 154.3L708.4 158.8M710.8 154.1L710.9 155.7M710.7 154.4L711.3 157.4M712.6 150.8L714.3 152.9M714.3 152.9L716.1 155.8M714 152.9L717 152.5M715.5 155L715.7 158.1M713.5 152.2L716.1 151.2M712.7 154.1L714.9 154.9M714.9 154.9L717 156.3M713.9 154.7L714.4 156.5M712.8 157.5L711.2 160M711.2 160L709.6 163.3M711 160.8L708.6 160.7M711.6 159.6L710 159.8M711.6 159.7L709.3 159.8M712.9 159.3L711.6 161.4M711.6 161.4L710.4 164.2M711.9 161.2L710.2 161M710.7 163.5L711.7 165.7M711.4 162.1L711.8 163.7M713.1 162.5L715.8 164.5M715.8 164.5L718.5 167.4M717.3 166.3L718.8 165.2M713.6 167.3L711.5 170.8M711.5 170.8L709.5 175.3M711.9 170.6L712.8 173M710.7 172.9L710.8 175.7M713.9 170.6L716 172.3M716 172.3L718 174.8M716.9 173.6L716.2 176.2M716.7 173.4L718.7 171.9M714 172.2L715.5 173.7M715.5 173.7L716.9 175.7M716.6 175.3L715.6 177.9M715.8 174.4L715.2 175.8M714.2 173.9L712.7 175.3M712.7 175.3L711.2 177.4M712.5 175.9L710.5 174.2M713.1 175.2L714.2 177.9M714.6 177L716.5 178.4M716.5 178.4L718.5 180.4M715.6 177.9L716.6 180.4M715.6 177.9L717.3 177.1M715.3 181.7L718.1 182.5M718.1 182.5L720.9 184.2M718.7 183.2L719.6 181.5M718.7 183.2L719.8 184.6M715.5 183.3L712.8 185.8M712.8 185.8L710.1 189.4M713.6 185.5L713.6 188M716.1 186.3L719 186.9M719 186.9L721.9 188.4M721.2 188.1L722.3 189.3M716.7 189.3L713.5 191M713.5 191L710.4 193.7M713.9 191.2L714.2 193.4M717.7 193.6L720.5 194.2M720.5 194.2L723.4 195.7M721.3 194.9L722.7 197.1M721.3 194.9L722.1 192.8M721.3 194.9L722.5 196.3M718.9 198.3L717.6 200.8M717.6 200.8L716.3 204M717.8 200.7L719.5 202.6M717.5 201.5L718.7 203.4M717.7 201L719.1 202.8M719.3 200L721.2 200M721.2 200L723.1 200.7M721.6 200.4L723 197.7M720.8 204.8L719.1 207.7M719.1 207.7L717.3 211.5M719.6 207.1L720.1 210M719.7 207L717.1 206.8M722 209L724.2 210.1M724.2 210.1L726.5 212M724.2 210.4L724.4 212.4M725.5 211.3L726.9 209.6M723.5 210L724 212.8M722.6 211.1L719.7 213.8M719.7 213.8L716.9 217.4M719.8 214.2L718.4 213.1M723.4 214.7L726.5 215.7M726.5 215.7L729.6 217.7M725.8 215.8L727.7 217.7M716.5 173.2L715.2 175.3M715.2 175.3L713.8 178.1M714.5 177L714.5 178.8M716.5 173.2L718.6 173.1M718.6 173.1L720.7 173.5M719.8 173.5L721.1 174.6M716.5 173.2L716.1 176.6M716.1 176.6L715.7 180.9M715.9 178.9L713.4 180M716.5 173.2L718.8 174.2M718.8 174.2L721 175.8M719.7 175L721.9 173M718.2 174.2L719.1 175.7M717.8 174L718.9 176.7M716.5 173.2L715 175.4M715 175.4L713.4 178.2M714.7 176.2L713.1 176.1M715.7 174.6L716.1 176.4M718.1 176L720.2 177.5M720.2 177.5L722.3 179.6M721.1 178.6L720.8 180.9M721.3 178.7L723.8 178M720.4 177.9L722.6 177.4M718.9 177.5L721.9 178.4M721.9 178.4L724.8 180.2M722.1 178.9L722.4 181.5M720.8 178.3L721.6 179.8M723.7 179.6L724.2 178.1M721.2 181.7L719.2 184.9M719.2 184.9L717.2 189M718.2 187.2L718.7 188.9M718.4 186.9L719.1 188.2M717.8 187.9L719 190.3M722 183L724.4 183.2M724.4 183.2L726.9 184.2M723.8 183.4L725 185.8M724.8 187.2L723.7 190.2M723.7 190.2L722.6 194.1M723.8 190.1L721.5 190M726.6 189.9L726 192.9M726 192.9L725.3 196.7M726.1 192.5L728.6 194.2M725.9 193.8L723 193.8M726.3 191.7L728.4 194M729.2 193.8L732.3 193.6M732.3 193.6L735.5 194.4M731.5 194L732.6 191.2M733.1 194.2L735.5 195M734.4 194.3L735.3 196M730 195L728.3 196.9M728.3 196.9L726.5 199.5M728.3 197.2L728.5 200.3M729.1 196.2L729.9 199M727.7 198L727.1 200.7M732.8 199.7L731.3 202.1M731.3 202.1L729.9 205.3M731.8 201.6L729.2 201.3M732 201.3L733.8 203.7M733.7 201.2L731.2 203.7M731.2 203.7L728.8 207.1M730.7 204.8L728.3 202.8M731 204.5L731.1 207.2M731.3 204.1L730.8 206.1M734.4 202.6L736.2 203.4M736.2 203.4L738 204.8M736.5 203.8L738.1 205.9M696.5 182.1L697.1 184.3M697.1 184.3L697.7 187.1M697 184.3L695.9 185.5M697.4 185.9L699.2 186.2M697.5 186.2L695.9 187M694.4 184.9L692 185.3M692 185.3L689.7 186.4M691.6 185.8L691.3 183.4M691.7 185.8L690.5 188M693.3 186.5L694.8 188.3M694.8 188.3L696.3 190.7M695.8 190L698.7 189.2M691.9 189.4L690.2 190.3M690.2 190.3L688.5 191.8M689.2 191.4L689.1 193.7M689 191.5L688.7 193.2M690.1 190.7L688.7 192.8M690.2 193.9L691.9 196.5M691.9 196.5L693.5 199.9M691.2 195.7L689.6 198.2M691.4 196.1L690.4 197.7M689.8 195.5L691.3 199.1M691.3 199.1L692.8 203.6M691.9 201.3L691.4 204M691.9 201.3L690.9 204.2M690.6 197.8L688.3 199.7M689 198.6L690.8 200.7M690.8 200.7L692.7 203.6M691 201.3L690.4 203.4M691.6 202.2L693 201.1M687.8 203.6L686 204.9M686 204.9L684.2 206.9M685.8 205.4L684.2 204.9M687.2 206.9L690.1 208.7M690.1 208.7L693 211.4M690.5 209.4L690.1 211.8M690.4 209.4L692 208.3M690 209L691.9 207.9M687.1 208.5L684.5 210.6M684.5 210.6L682 213.7M683.7 212L683.6 213.5M683.2 212.4L680.4 211.1M687.1 211.8L690 213.4M690 213.4L692.9 215.8M692.2 215.3L693.5 217.6M687.4 213.5L685.7 215.2M685.7 215.2L684 217.6M685.4 216L685.4 218M688.2 216.5L691 216.6M691 216.6L693.8 217.6M691.2 217.1L692.4 215.3M691.6 217.1L692.2 218.7M724.9 144.7L728.2 144.3M728.2 144.3L731.5 144.9M727.1 144.8L728.3 146.6M727.7 144.8L729 141.9M724.9 144.7L724.8 147.1M724.8 147.1L724.7 150.2M724.8 148.3L722.5 149.2M724.7 148.5L723.2 150.3M724.9 144.7L724.4 146.8M724.4 146.8L723.9 149.4M724.5 146.9L726.2 149.3M724.1 148.7L725.7 150.4M724.2 148L725.2 150.1M726 146L723.8 149M723.8 149L721.7 153M723.7 149.6L721.1 148.8M723.8 149.6L725 151.3M729.3 150L732.1 149.1M732.1 149.1L734.8 149.1M733.6 149.3L734.9 150.9M733.4 149.3L735.1 149.9M733.7 149.3L736.4 150.6M730.5 151.4L732.1 151M732.1 151L733.8 151.1M732.9 151.2L735 152.6M732.2 151.2L731.7 148.8M732.7 154.1L730.8 156.8M730.8 156.8L729 160.4M730.7 157.5L729.1 157M730.7 157.5L731.2 159.8M734.6 156.6L736.8 156.5M736.8 156.5L738.9 157M736.3 156.7L738.3 158.6M737.6 156.9L739.1 158.6M735.6 157.9L737.8 157.1M737.8 157.1L740 157.1M736.8 157.6L738 158.7M737.4 160.3L739.3 160.1M739.3 160.1L741.2 160.4M740.4 160.4L742.1 162.7M738.5 160.3L738.9 158.8M740.3 160.4L740.1 158.1M739.3 162.8L738 165.2M738 165.2L736.6 168.3M738.3 164.8L738.6 167.4M737.2 167.2L737.5 168.9M737 167.5L737.7 169.3M741.9 166.4L739.9 169M739.9 169L737.9 172.4M739.3 170.4L737.5 169.9M742.8 167.7L744.6 168.2M744.6 168.2L746.5 169.3M744.3 168.3L746.2 165.9M744.1 168.3L744.8 170.3M744.4 170.2L743.3 173.1M743.3 173.1L742.2 176.7M743 174.2L740.5 175.4M743 174.3L743.6 176.4M746 172.8L745.4 176.1M745.4 176.1L744.9 180.2M745.4 176.5L742.8 177.4M745.5 176.2L743.4 177M748.2 177L751.1 176.7M751.1 176.7L753.9 177.2M753.1 177.2L753.4 175.1M751.9 177.1L752.9 174.7M749.7 180.1L749 182.2M749 182.2L748.4 184.9M748.9 182.8L749.8 185.3M748.8 183.4L751 184.9M748.8 183.5L749.6 186.5M751 183.1L753.9 183M753.9 183L756.8 183.7M754 183.4L754.1 181.9M753.2 183.3L754.2 181.9M756 183.6L758.2 185.1M751.7 184.5L751.1 187.8M751.1 187.8L750.4 191.9M750.6 191.1L748.7 192.5M751 188.5L753.8 190M750.6 191.2L748.8 191.1M753.9 189.9L757.1 191.4M757.1 191.4L760.3 194M757.7 192.4L759.3 191.6M757.9 192.5L759.1 190.8M755.1 193.2L753.4 195.6M753.4 195.6L751.7 198.9M752.6 197.3L752.8 199.2M755.6 195.2L757.8 195.5M757.8 195.5L759.9 196.6M759 196.3L760.1 198.1M756 196.9L753.3 199.3M753.3 199.3L750.6 202.7M751.2 202.1L750.7 204.6M754 199L753.1 201.7M756.2 198.4L758.5 201M758.5 201L760.9 204.5M758.9 202L761.1 200.4M725.4 92.5L724.9 95.4M724.9 95.4L724.4 99M724.9 95.8L721.9 96.9M725.4 92.5L727.5 92.5M727.5 92.5L729.6 93.1M727.6 92.8L727.7 91.1M726.7 92.7L728.7 94.9M726.3 94.2L725.3 96.4M725.3 96.4L724.2 99.2M724.5 98.5L722.5 98.4M724.5 98.5L722.8 98.1M725.7 95.7L726.8 98.1M727 96L729.5 98.2M729.5 98.2L732.1 101.3M728.6 97.7L730.4 97.2M727.6 101.6L729.9 104.4M729.9 104.4L732.1 108.3M730.8 106.4L730.8 108.6M728.7 103.3L729.1 106.2M727.6 103.1L724.7 104.4M724.7 104.4L721.8 106.6M723.1 105.8L722.2 107M727.8 106.4L731.3 107.5M731.3 107.5L734.7 109.7M733.3 109L734.1 112.1M732.4 108.6L733.1 106.7M728 108L726.7 110.4M726.7 110.4L725.3 113.6M726.3 111.5L723.7 112M727.1 109.9L724.6 110.7M727 110.1L725.3 110M729 113L731.3 114.6M731.3 114.6L733.7 117M733 116.4L733.3 118.8M731 114.8L733 112.6M731.6 115.3L733.6 113.4M729.4 114.9L731.1 115.9M731.1 115.9L732.9 117.5M732 116.8L734.8 115.4M731.3 116.2L731.3 118.8M730.5 119.8L729.5 122.4M729.5 122.4L728.5 125.8M729.4 123L726.6 123.1M730.8 121L733.3 123.5M733.3 123.5L735.8 127M732.7 123.3L734.6 123.1M733.6 124.4L733 127.3M734.9 125.9L734.9 127.6M714.5 101L716.7 101.2M716.7 101.2L718.8 102M716.3 101.4L717.8 103.5M717.1 101.6L718.2 103.2M714.5 101L712.8 101.9M712.8 101.9L711 103.4M712.6 102.3L712.1 105.1M711.7 102.9L710.4 101.8M714.5 101L711.9 103.1M711.9 103.1L709.2 106.2M712.1 103.3L712.5 104.9M714.5 101L713.6 103.8M713.6 103.8L712.6 107.3M713.7 103.7L710.5 103.8M713.8 103.3L712.2 103.5M714.5 101L716.6 102.8M716.6 102.8L718.7 105.2M717.2 103.7L717.1 105.7M715.8 102.3L714.8 105.1M714.5 101L712.9 102.5M712.9 102.5L711.3 104.7M711.9 104L710.4 103.6M711.8 104.1L711.5 105.8M712.3 103.5L710.5 102.5M714.5 101L716.6 101.7M716.6 101.7L718.6 102.9M717.7 102.5L719 103.8M718.1 102.7L719.3 100.7M714.5 101L713 104M713 104L711.5 107.9M713.4 103.6L715.2 105.6M712.3 106.2L710.3 106M712.7 105.1L713.8 106.5M715.1 104L717.9 105.4M717.9 105.4L720.6 107.6M719.4 106.8L719.8 109.3M719.2 106.6L720.1 108.9M717.1 105.3L718.6 104.7M715.8 107L713.5 109M713.5 109L711.3 111.7M713.9 109L714.7 111.9M716.9 111.5L715.2 113.3M715.2 113.3L713.6 115.7M714.3 114.8L715.1 117.7M717.3 113L719 114M719 114L720.7 115.6M719 114.3L720.5 112.2M718.4 113.9L719.6 116.2M718.7 117.5L717.9 119.9M717.9 119.9L717.1 122.9M717.7 121L720.1 122.5M717.6 121.4L718.8 124.3M719.7 120.5L722.9 121.6M722.9 121.6L726.2 123.7M724.3 122.7L725.6 125.4M725.3 123.2L727 125.4M720.6 123.5L723 124.1M723 124.1L725.4 125.5M722.1 124.1L723.3 126.1M721.4 126.5L719 129.1M719 129.1L716.7 132.6M719.1 129.5L716.8 129.3M717.4 131.7L718.5 133.8M719.8 128.7L717.2 126.8M722.3 129.6L724.5 130.3M724.5 130.3L726.6 131.6M725.7 131.2L727.1 132.7M723.7 130.3L725.3 128.9M725.7 131.2L726 133.1M723.6 134.2L726.4 135.3M726.4 135.3L729.2 137.2M727.5 136.3L729.9 134.8M724.3 137.2L722.4 139.9M722.4 139.9L720.4 143.6M722.9 139.6L721.1 139.8M721 142.5L718.9 142.4M725.4 141.7L727.4 142.7M727.4 142.7L729.4 144.2M727.9 143.3L729.5 145.8M726.4 142.4L727.5 140.4M725.7 143.5L727.6 145.6M727.6 145.6L729.6 148.4M728.2 146.8L730.7 145.8M727.6 145.9L730.6 145M726.2 146.9L724.3 150M724.3 150L722.3 154.1M725.1 149L725.8 150.7M726.5 148.5L728.7 149.1M728.7 149.1L730.9 150.4M728.3 149.3L729.4 150.8M726.9 151.1L724.6 153.8M724.6 153.8L722.3 157.4M725.4 153.1L723 152M711.7 116.2L709.3 119.3M709.3 119.3L707 123.4M708.5 121L707.1 120.5M711.7 116.2L714 116.8M714 116.8L716.3 118M713 116.7L715.3 115M711.7 116.2L710.1 117.8M710.1 117.8L708.6 119.9M709.6 118.7L708.5 117.6M709.4 118.9L709.4 121.4M709.6 118.7L710.1 120.3M711.7 116.2L713.6 116.9M713.6 116.9L715.5 118.2M713.6 117.2L715.1 119.3M711.7 116.2L713.9 116.4M713.9 116.4L716.1 117.3M714.5 116.9L716 119.5M711.7 116.2L709.9 118.1M709.9 118.1L708.2 120.6M709.5 119L709 122.1M712.3 117.6L710.7 120M710.7 120L709.1 123.1M710.2 121.2L707.2 120.4M713.4 120.5L716.2 122.6M716.2 122.6L719 125.6M715.9 122.8L718.2 121M716.2 123L717.3 122M714.5 123.5L713.9 125.6M713.9 125.6L713.2 128.4M713.7 126.6L711.2 128.2M715.4 126.4L718.2 128.6M718.2 128.6L721.1 131.7M718.9 129.7L718.3 131.6M715.7 127.9L713.9 130.5M713.9 130.5L712 133.9M713.4 131.7L710.9 130.7M716.4 131L718.2 133.2M718.2 133.2L720.1 136.2M718 133.3L719.7 133.2M718.6 134.1L718.5 135.8M716.9 134.1L714.8 135.8M714.8 135.8L712.7 138.1M713.4 137.5L713.2 140.7M713.3 137.6L712.9 139.3M717.5 137.2L719.2 137.7M719.2 137.7L721 138.7M720.3 138.4L722.1 140.4M720.5 138.5L722.3 136.4M717.7 138.6L716.4 141.4M716.4 141.4L715.2 144.9M716.2 142.3L717.5 145.2M716.4 141.8L717.7 143.5M715.9 143L713.8 142.7M718.7 143.5L721.5 146.1M721.5 146.1L724.4 149.7M723 148.2L722.4 149.6M720.4 145.4L722.7 143.9M723.6 148.8L722.7 151.7M719.1 145.2L716.3 148M716.3 148L713.5 151.8M714.6 150.5L715 152.1M719.8 148.5L717.4 151.4M717.4 151.4L715 155.2M718.1 150.9L719.2 153.8M716 153.7L714.4 152.6M717.7 151.4L718.1 154.5M720.3 151.1L723 152.7M723 152.7L725.6 155.1M722 152.4L721.7 154.3M673.5 111.2L670.7 113.1M670.7 113.1L667.9 115.8M669.2 114.7L669.1 117.6M671.9 112.5L671.4 114.8M673.1 112.7L675.3 116M675.3 116L677.6 120.2M674.9 115.7L677.4 116.1M674.9 115.8L674.6 118M672.3 116.2L670.9 117.8M670.9 117.8L669.5 119.9M671.2 117.6L671.3 119.2M670.1 119.2L667.8 117.8M671.5 120L668.8 121.3M668.8 121.3L666.2 123.4M666.8 122.9L665.1 121M670.8 124.2L672.7 126.6M672.7 126.6L674.5 129.7M673.3 127.9L672.7 130.7M673.2 127.7L673.5 130.7M670.4 127.2L672 130.8M672 130.8L673.6 135.3M672.5 132.4L675.4 132.1M673.1 133.9L672.5 136M671.8 130.8L673.9 130.5M670 130.4L666.8 132.2M666.8 132.2L663.7 135M665.2 133.9L663.5 132.3M666.2 133.2L666 135.7M666.5 132.9L666.1 135.6M669.5 135L666.8 137.5M666.8 137.5L664 140.9M665.4 139.4L664.9 142.2M669.4 136.5L671.3 139.3M671.3 139.3L673.3 143.1M672.8 142.3L675.7 141.2M672.3 141.5L674.3 140.4M672.6 141.9L675.1 140.6M669.1 139.4L665.8 140.7M665.8 140.7L662.4 143.1M665.2 141.6L664.7 144.6M668.9 142.2L671 144.5M671 144.5L673.1 147.6M670.1 143.8L672.2 143.4M672.5 146.8L674.8 146M670.2 144L672.2 142.8M668.6 146.7L670.6 147.6M670.6 147.6L672.6 149M670.2 147.7L671.3 148.9M671.6 148.5L672 151.6M668.6 148.3L666.3 149.6M666.3 149.6L664 151.6M664.9 150.9L662.8 149M668.6 150L670.8 151.5M670.8 151.5L673 153.7M670.4 151.5L671.8 150.3M668.6 153L666.3 155.5M666.3 155.5L664 159M666 156.3L666.9 158.4M667.2 154.8L667.3 156.6M667.2 154.8L668.2 157.7M668.7 154.5L670.3 155.9M670.3 155.9L671.8 157.7M670.7 156.6L671.4 158.6M670 155.8L669.4 158.6M668.7 156.1L667.2 158.5M667.2 158.5L665.6 161.6M667.1 159L667.4 160.8M667.3 158.7L665.3 158.8M668.9 159.4L670.2 161.2M670.2 161.2L671.4 163.4M670.9 162.7L670.8 164.8M669.9 161L672.1 160.2M669 161.1L665.8 162.5M665.8 162.5L662.7 164.9M665.9 163L664.1 165.5M664.7 163.7L663.8 165.4M669.1 162.7L672.4 163.8M672.4 163.8L675.7 165.8M672.8 164.4L673.3 162.7M671.8 164L673.2 162.3M675 165.5L676.6 166.9M669.3 166L671.8 167.1M671.8 167.1L674.3 169M672.9 168.1L673.9 166.8M673.7 168.6L674.7 170.2M669.4 167.5L667.1 169.1M667.1 169.1L664.8 171.4M667.1 169.4L666.3 171.3M667.9 168.8L666 167M669.7 170.8L671.9 173.1M671.9 173.1L674.2 176.2M672.4 174.1L672.3 176.2M673.7 175.7L676.5 174.1M672.5 174.1L675.3 173.8M670.1 174.3L669 176.6M669 176.6L667.9 179.5M668.5 178.2L666.1 178.4M669.5 175.7L669.8 178.4M670.6 177.8L672.9 178.4M672.9 178.4L675.2 179.8M672.2 178.5L673.3 180M671.1 181L669.7 184.3M669.7 184.3L668.2 188.5M669 186.4L669.8 188.2M669.5 185.1L666.6 186.2M668.7 187.2L670.3 189.1M671.4 183.8L673.4 185M673.4 185L675.3 186.8M674.1 185.8L676 184.4M673.4 185.3L673.5 186.8M671.3 187.4L668.4 188.7M668.4 188.7L665.5 190.8M668 189.4L667.4 191.3M667.1 189.9L665.2 188.3M670.4 190.6L667 192.1M667 192.1L663.6 194.7M666.1 193.1L664.7 191M670 191.5L666.4 192.6M670 191.5L667.6 190.1M670 191.5L671.3 196.8M670 191.5L665.4 193.6M670 191.5L668 196M670 191.5L668.9 190M662.7 121.6L660.6 124.7M660.6 124.7L658.5 128.7M660.9 124.7L659.2 124.4M660.6 125.1L659 124.7M662.4 125L664.6 126.8M664.6 126.8L666.8 129.3M664.5 127.1L666.4 126.1M666.1 128.7L667.9 127.2M662.1 128.4L659.3 129.3M659.3 129.3L656.5 131M659.9 129.4L658.9 130.7M662 130L664.7 132.4M664.7 132.4L667.4 135.7M666.4 134.6L668.1 134.1M665.5 133.8L665.6 135.6M661.9 131.5L660.3 133M660.3 133L658.7 135.2M660 133.6L660.9 135.8M661.7 132.9L663.7 135.4M663.7 135.4L665.6 138.8M663.9 136.2L662.4 138.6M663.2 135.2L666.1 133.9M661.5 135.8L664.3 138.3M664.3 138.3L667.2 141.8M665.4 140L667.8 139M661.2 138.7L659 141.6M659 141.6L656.8 145.3M658.3 143.1L658.5 145.3M658 143.6L655.1 144M658.8 142.4L656.8 142.3M661 142L662.6 143.4M662.6 143.4L664.1 145.4M663.2 144.4L666.1 143.3M662 143L664.1 141.7M660.9 143.5L658.5 145.4M658.5 145.4L656.1 148.2M658.9 145.5L656.5 145.2M658.9 145.5L658.7 148.2M660.7 148.3L663.6 149.5M663.6 149.5L666.4 151.6M663.1 149.7L664.2 152.6M662.2 149.1L663.9 147.6M665.8 151.2L667.3 149.7M660.7 150L658.4 152.8M658.4 152.8L656.2 156.5M657.2 155L655.2 155.1M659.3 152L656.8 152.2M660.6 153.4L657.5 155.7M657.5 155.7L654.4 159.1M658.5 155.3L657.7 157.2M660.5 156.5L662.5 159.9M662.5 159.9L664.5 164.3M663.7 162.9L666.5 162.4M662.3 160L664 159.6M660.5 159.7L659 161.1M659 161.1L657.4 162.9M658.1 162.3L658.7 164.9M658.8 161.5L656.3 161.1M658.2 162.2L658.2 165.2M660.6 163.1L663 164.7M663 164.7L665.4 167M663.6 165.6L664.7 167.9M662 164.3L662.8 166.5M660.7 166.2L658.7 168.7M658.7 168.7L656.6 172M659.7 167.7L657.5 166.7M659.2 168.3L659 170.2M660.9 168.9L663.2 169.5M663.2 169.5L665.4 170.8M664 170.2L664.9 167.4M662.7 169.6L664.2 171.4M661.3 172.4L658.4 174.2M658.4 174.2L655.6 177M659.5 173.9L657.1 171.9M656.2 176.4L655.9 178M661.7 174L659.4 177M659.4 177L657 181M660.2 176.3L661 178.4M659.8 176.8L661.1 179M659.2 177.7L657.6 177.7M662 175L664.4 173.4M662 175L657.1 176M662 175L661.6 173.7M662 175L663.8 174.3M662 175L662 180.3M662 175L663.7 178.8M653.7 128.3L655.8 129.3M655.8 129.3L657.9 131.1M655.6 129.6L657 132.1M655.1 129.2L654.9 131.6M656.4 130.1L658 132.8M653.3 131.5L650.3 132.9M650.3 132.9L647.3 135.2M651.5 132.6L650.7 134.1M653.1 133.3L656.1 135.7M656.1 135.7L659.1 139.2M657.7 137.8L659.9 136.3M658 138.2L660.1 136.8M653 136.5L651.1 137.2M651.1 137.2L649.2 138.5M650.6 137.7L649.6 139.8M650.7 137.7L650 136.3M649.7 138.2L648.5 140.1M652.9 139.6L655.6 141.6M655.6 141.6L658.2 144.5M654.9 141.5L654.6 143.4M655.2 141.7L656.8 141.4M655.6 142L655.6 144.1M653.1 142.9L649.7 144.5M649.7 144.5L646.4 147.1M649.2 145.3L647.9 147.4M651.3 144L649.9 143M647.3 146.5L645.9 145.4M653.5 146L656.6 147.3M656.6 147.3L659.8 149.7M657.5 148.3L658.6 146.6M654 147.5L656.6 147.6M656.6 147.6L659.2 148.5M657.9 148.2L659 146.1M656.2 152.2L654.9 154.9M654.9 154.9L653.7 158.3M655.4 154.2L652.9 154.5M656.9 153.6L659 155.1M659 155.1L661.1 157.2M660.3 156.5L661.8 154.6M659.6 155.9L660.4 157.8M656.9 157.4L654.3 159.5M654.3 159.5L651.7 162.4M652.9 161.2L651.8 160.1M653.1 161.1L652.6 163.2M654.2 159.2L654.9 162.2M654.9 162.2L655.5 166M654.8 162.4L657.3 163.6M653 160L653.5 162.9M653.5 162.9L654.1 166.5M653.8 164.8L652.1 166.4M653.4 162.2L652.3 164.5M651.2 161.8L649.4 161.7M649.4 161.7L647.7 162.3M649.7 162L648.7 164M649 162.1L647.5 162.8M650 161.9L648.2 164.4M650 163L653.1 164.1M650 163L650.5 161.6M650 163L645.7 163.6M650 163L652.1 166.7M650 163L653.5 162.3M650 163L647 165.9M679.9 118.9L681.7 120.7M681.7 120.7L683.5 123.2M681.1 120.2L680.3 121.9M679.6 123L682.6 124.6M682.6 124.6L685.6 127.1M684.5 126.3L685.8 128.8M685 126.6L687.3 125.7M679.3 126.4L682.4 128.4M682.4 128.4L685.6 131.3M682.2 128.7L682.2 130.4M684.1 130.2L686.3 129.6M679 130L680.7 132.5M680.7 132.5L682.5 135.8M680.7 132.8L678.7 135.3M678.8 131.7L676.6 132.3M676.6 132.3L674.4 133.5M675.9 132.9L673.5 131.2M677 132.5L676.5 134.5M677.7 132.2L676.3 133.9M678.7 133.4L681.4 135.2M681.4 135.2L684 137.8M682.1 136.2L682.6 138.2M678.6 135L675.5 135.7M675.5 135.7L672.3 137.3M675.2 136.3L673.1 138.5M674.8 136.4L672.7 134.1M678.5 136.6L680.8 137.8M680.8 137.8L683.2 139.8M681.4 138.6L683.1 136.2M679.7 137.4L681 136.3M682.5 139.3L684.2 137.9M678.1 140.9L680 143.8M680 143.8L681.9 147.5M680.4 144.9L680.3 147.8M681.2 146.3L683.6 145.2M681.5 146.8L681.6 148.8M677.9 143.9L676.4 145.5M676.4 145.5L674.9 147.6M676.7 145.3L676.4 147M676.7 145.4L676.9 147.4M677.8 145.4L679.4 147.8M679.4 147.8L681 150.9M678.9 147.4L678.6 149.1M678.8 147.2L677.9 149.4M679.6 148.6L682.2 149.1M677.7 149L674.9 150.8M674.9 150.8L672.1 153.5M672.7 153L672.1 155.5M674.7 151.4L672.9 150.7M677.7 151L679.7 151.8M679.7 151.8L681.7 153.2M679.3 151.9L680.4 150.3M680.5 152.5L680.5 154.9M677.7 153.6L675.8 154.5M675.8 154.5L673.9 156.1M675.9 154.7L676 156.4M677.8 156.4L680.7 158.8M680.7 158.8L683.7 162.3M681 159.7L683.2 158.8M680 158.6L681.2 157.2M682.5 161.2L684.5 160.4M677.8 159.4L675.6 162.2M675.6 162.2L673.3 165.9M673.9 165L674.7 166.3M677.9 162.6L679.8 163.4M679.8 163.4L681.7 164.8M681.3 164.6L681.4 166.7M680.9 164.4L682.1 165.7M678 165.9L675.4 167.6M675.4 167.6L672.8 170.1M674.8 168.5L673.7 167.4M675.6 167.9L674.8 170.6M678.2 169.1L680.8 170.3M680.8 170.3L683.4 172.2M682.1 171.5L684.2 169.5M678.3 172.3L676.4 175.5M676.4 175.5L674.4 179.7M676 176.6L676.3 178.3M676.5 175.7L674 176.5M674.9 178.8L676.2 181.7M678.4 173.8L680.3 174.3M680.3 174.3L682.2 175.4M679.9 174.4L681.2 176.2M678.6 178L681.1 179.4M681.1 179.4L683.6 181.5M680.5 179.3L682.9 177.9M680.9 179.6L681.8 182.2M678.7 179.8L681.7 180.9M681.7 180.9L684.7 182.9M681.1 181L681.2 182.6M680.6 180.8L682.4 179.3M683.6 182.3L685.2 181.4M678.9 183.2L677 184.7M677 184.7L675.1 186.7M677 185.1L675.3 184.5M675.9 186.1L675.9 188.3M675.6 186.3L674 185.4M679.2 186.5L682.1 187.3M682.1 187.3L685 189M682.8 188.1L683.5 190.6M683.4 188.3L684.4 187M684.4 188.8L685.7 186.2M679.5 189.6L677.5 191.4M677.5 191.4L675.5 193.9M677.2 192L678 194.8M679.6 191.1L681.3 192.6M681.3 192.6L683 194.7M682.3 193.9L681.8 196.5M681.9 193.5L682.6 195.6M680.9 192.4L682.2 191.4M679.9 193.9L678.6 196.3M678.6 196.3L677.3 199.4M678.3 197.2L676 197.7M678.1 197.6L676.5 197.9M677.9 198L676.3 198.4M680.2 196.7L683.7 197.5M683.7 197.5L687.2 199.3M686.2 198.9L688 197M683 197.7L684.4 196M680.9 201.7L679 202.8M679 202.8L677.1 204.5M678.4 203.5L677.9 205.8M677.6 204.1L676.9 205.7M679.8 202.5L677.5 201.2M681.2 203.4L683.8 204.7M683.8 204.7L686.3 206.8M684.7 205.8L685.9 204.6M681.5 205.1L679 208.2M679 208.2L676.5 212.3M677.2 211.3L674.8 210.9M677 211.5L678 214.2M682.4 209.6L685.7 210.9M685.7 210.9L689.1 213.3M687.4 212.3L688.7 214.2M685.1 211.1L686.5 208.7M683 212L681.6 214.1M681.6 214.1L680.1 216.9M680.4 216.4L678.1 215.1M680.7 216L681.7 218M685.2 216L687.9 216.3M687.9 216.3L690.6 217.4M687.6 216.7L688.3 215.2M687.1 216.5L688.6 218.3M686 217L684.9 219.8M684.9 219.8L683.7 223.4M684.6 220.9L682.9 220.4M684.3 221.8L682 222.4M684.3 221.9L684.7 225M686 217L686.5 220.6M686 217L688.7 220.5M686 217L682.7 216.6M686 217L689.9 219M686 217L687.6 215.8M686 217L684.4 215.1M657.4 157L659.3 160.3M659.3 160.3L661.2 164.6M659.6 161.4L658.1 163.8M658.6 159.4L657.1 161.2M655.5 161.6L653.1 161.6M653.1 161.6L650.8 162.4M651.5 162.2L649.2 163.6M655 163L656.6 164.9M656.6 164.9L658.1 167.5M656.7 165.5L657 168.2M657.2 166.2L657.3 169.2M654.2 166.1L655.6 169.8M655.6 169.8L656.9 174.4M656.5 173.1L655.4 174.4M654 169L651.7 170.1M651.7 170.1L649.5 171.9M650.4 171.3L648.9 168.5M652.7 169.9L651.2 168.8M654.5 170.9L656.3 172.6M656.3 172.6L658.1 174.9M657.5 174.2L659.4 173.5M656 174L653.9 176.5M656 174L658.8 178.7M656 174L652.4 177.4M656 174L653.4 175M656 174L660.3 177.5M656 174L658.3 178.2M738.4 130.2L740.3 130.6M740.3 130.6L742.3 131.7M741.8 131.5L742.9 132.8M739.9 130.8L741.9 129.2M739.2 135L741.6 138.1M741.6 138.1L744 142.3M742.2 139.5L743.9 139.5M741.4 138.4L743.3 138.4M739.5 136.7L738 138.2M738 138.2L736.6 140.3M738.3 138.1L739 140.8M739.7 138.4L741.9 140M741.9 140L744.1 142.3M743.6 141.8L744.9 140.9M742.1 140.5L743.1 142.6M740.5 143.1L739.1 144.7M739.1 144.7L737.7 146.8M738.7 145.4L738.4 146.9M738.9 145.3L736 144.9M740.9 146.2L742.7 147.9M742.7 147.9L744.6 150.2M741.9 147.3L741.1 150M743 148.5L743.2 150.2M742.5 148L742.2 149.9M741.4 149.3L739.9 152.8M739.9 152.8L738.5 157.4M740.1 152.9L737.4 152.9M740.3 152.1L741.5 154.6M739.5 154.4L740.1 156.7M742 152L739.9 154.1M739.9 154.1L737.9 157M739.5 155L738.3 154.1M740 154.4L739.2 157.4M743.6 155.9L745.7 156.7M745.7 156.7L747.8 158.2M744.7 156.5L745.7 159.4M746.7 157.6L748.6 156.6M745.7 157L747.1 156.3M743.6 155.9L742.5 157.7M742.5 157.7L741.3 160M742 158.7L742 160.5M745.4 159L742.8 161.9M742.8 161.9L740.2 165.8M743.2 161.9L741.6 160.6M746 160L748.8 158.7M746 160L748.7 160.9M746 160L741.4 160.1M746 160L742.5 158.9M746 160L749.1 163.1M746 160L747.4 163.4M746.7 114.1L744.6 115.6M744.6 115.6L742.6 117.7M745 115.5L743 115M744.6 115.9L742.3 113.8M744.9 115.6L743.7 114.5M748.1 118.7L750.4 118.7M750.4 118.7L752.7 119.3M752.1 119.3L753 117.1M749.8 118.9L750.3 116.4M750.1 119L752.2 120.1M748.7 120.4L747.9 123.1M747.9 123.1L747.1 126.5M748 123L749.7 125M749.2 122.1L752.1 124M752.1 124L754.9 126.8M751.2 123.7L750.7 125.7M753.7 125.8L754.9 124.3M752.2 124.5L754.6 123.3M750.4 126.9L748.6 129.3M748.6 129.3L746.7 132.5M749.3 128.5L749.6 130.9M748.3 130.1L748.4 133M750.7 128.7L753.6 130M753.6 130L756.5 132.2M753.2 130.2L754.4 129.1M753.2 130.2L755.5 128M750.9 130.4L748.7 133.6M748.7 133.6L746.5 137.8M747.8 135.7L748.3 137.2M751.5 133.5L749.8 135.9M749.8 135.9L748.2 139M749.9 136.2L747.1 135M750 136.1L749.7 138.4M750.3 135.6L747.3 134.5M752.9 136.7L755.1 137.8M755.1 137.8L757.3 139.7M756.1 138.9L757.6 141.4M756.3 139L757.5 136.9M756.4 139L758.1 136.6M754 138.4L752.7 140.4M752.7 140.4L751.5 143.2M751.7 142.7L751.7 144.9M752.2 141.8L753 143.8M756.3 141.1L759.1 141.1M759.1 141.1L761.9 141.9M759.7 141.6L761 143.9M760.2 141.7L760.1 139.9M757 142L758.1 140.3M757 142L761.5 144.9M757 142L760.1 146.3M757 142L761 144.2M757 142L758.9 144.9M757 142L753.1 145M644.4 134L641.3 133.6M641.3 133.6L638.1 134.2M641.5 134.1L640.9 131.2M644 136L645.3 138.1M645.3 138.1L646.7 140.8M645.6 139L644.6 140.9M645.2 138.1L644.6 139.9M645 137.8L644.2 139.5M644.6 139.4L647.2 139.9M647.2 139.9L649.7 141.2M648.2 140.6L649 142.1M646.1 139.9L647.7 142.2M648.7 140.8L649.7 142.2M646 143L645.1 146.9M645.1 146.9L644.3 151.8M645.1 147.3L643.7 147.8M644.6 150.1L645.8 153M647 144.7L644.4 147.3M644.4 147.3L641.8 150.8M642.8 149.6L639.8 149.3M649.2 147.9L651.7 148.3M651.7 148.3L654.2 149.4M652.6 149L653.5 147.5M650 149L645.8 148.7M650 149L648.9 153.2M650 149L649.2 154M650 149L651 153.4M650 149L646.9 149.1M650 149L653.3 151.5M751.1 192.7L752.9 196.3M752.9 196.3L754.8 201M753.3 197.8L755.5 197.9M753.7 198.6L755.6 198M752.5 195.8L750.3 197.9M750.5 194.5L748.6 195.3M748.6 195.3L746.6 196.6M747.1 196.4L746 195.3M750 198L753.1 200.3M753.1 200.3L756.1 203.7M753.3 201.1L754.3 204M753.5 201.3L754.8 199.9M755.3 203L757.5 202.6M751 201.2L749.8 204.5M749.8 204.5L748.6 208.7M749.8 205L751.2 207.3M752.5 204.1L750.9 206.4M750.9 206.4L749.4 209.5M750 208.4L751 210.1M749.9 208.7L751.2 210.3M750.1 208.4L747.1 207.5M753 205L748.8 207.9M753 205L750.8 204.2M753 205L756.1 205.6M753 205L750 204.3M753 205L754.8 207.3M753 205L750.7 204.6M715.3 188.3L717.2 189.7M717.2 189.7L719.1 191.6M718.3 191L719.2 193.4M715.6 191.7L718.5 193.8M718.5 193.8L721.3 196.9M718.5 194.3L721.2 193M718.7 194.5L719 197.3M715.9 193.5L713.8 194.9M713.8 194.9L711.7 196.9M714.3 194.8L713.3 196.7M716.5 197L715 200.1M715 200.1L713.5 204M715.1 200.2L716.8 202.8M714.9 200.8L715.3 202.4M714.7 201.1L716.3 203.5M716.9 198.6L718.9 198.9M718.9 198.9L721 199.8M719.3 199.3L720.8 197.1M720.1 199.6L721.4 200.4M720.5 199.7L721.4 197M717.3 200.2L715.7 202.7M715.7 202.7L714.1 206M715 204.4L712.1 204.8M716.2 202.3L713.1 202.4M715.3 203.8L716.3 205.4M718.3 203.5L721 205.6M721 205.6L723.6 208.7M722 207.1L722.5 208.7M720 208L718 210.2M718 210.2L716.1 213.3M716.8 212.2L716.5 215.2M717.6 211.2L717.9 213.1M718.7 209.7L716.4 208.6M720.8 209.6L724 210.2M724 210.2L727.2 211.8M723.9 210.7L725.6 212.6M722.7 212.7L721.6 216.1M721.6 216.1L720.4 220.4M721.8 215.9L722.4 217.5M720.9 218.7L721.8 220.6M721.4 217L723.2 219.6M725 216L727.5 215.9M727.5 215.9L730.1 216.6M727 216.2L728.4 218.7M725 216L728.1 216.4M725 216L725.1 213.5M725 216L724.4 213.7M725 216L723.6 213.7M725 216L720.7 218M725 216L721.1 217M707.8 174.3L706.4 176.7M706.4 176.7L705 179.7M705.8 178.1L706.8 180.5M707 175.7L705.2 175.7M708.1 177.6L710.7 180.2M710.7 180.2L713.3 183.6M710.4 180.3L710 183.2M708.3 179.5L706.4 181.7M706.4 181.7L704.5 184.6M706.5 181.9L706.2 183.4M706.7 181.6L706.3 184.1M705.8 182.9L703.2 181.5M708.5 183L707.4 184.9M707.4 184.9L706.3 187.5M707 186.1L707.8 189M708.3 187.5L706.9 189.1M706.9 189.1L705.5 191.4M707.5 188.7L708 190.9M707.4 188.8L708.3 190.6M708.1 190.5L710.7 192.1M710.7 192.1L713.2 194.5M711.4 193.1L712 195M708 193.5L711.3 195.1M711.3 195.1L714.7 197.6M710.2 194.9L711.4 193.3M711.3 195.5L711.6 198.2M709.9 194.7L710.7 197.1M708.1 196.7L710.4 199.6M710.4 199.6L712.7 203.4M711.9 202.2L711.8 205.3M711.1 201.1L714.1 200.3M709.6 198.9L709.3 202.1M708.6 200.4L706.9 202.9M706.9 202.9L705.2 206.3M706.4 204.1L708 206.6M708.9 202.1L711.2 204.6M711.2 204.6L713.5 207.9M710.1 203.7L712.3 202.3M710.9 204.7L712.8 203.5M710.4 204L713.4 203.4M709.3 205L707.9 208.1M707.9 208.1L706.5 212M707.2 210.2L705.4 210.6M709.5 206L710.6 211M709.5 206L706.6 204.8M709.5 206L707.6 205.3M709.5 206L712.9 205M709.5 206L705.5 206.9M709.5 206L705.1 207.5M683.5 95.3L681 97.1M681 97.1L678.5 99.7M682 96.6L680.1 94.3M680.6 97.9L679.3 96.7M681.4 97.1L679.7 96.4M679.8 94.1L677.9 95.9M677.9 95.9L676.1 98.5M677.2 97.2L678.3 99.7M678.1 96L679.1 98.7M678.1 96.1L675.8 95.9M678 94L676.7 92.4M676.7 92.4L675.5 91.5M676.1 92.2L676.5 90.5M677.3 93.3L674.7 92.9M676.6 92.6L677.7 91.1M678 94L681.2 95.1M678 94L679.5 92.8M678 94L677.1 91.9M678 94L680.5 93.5M678 94L675.9 95.9M678 94L679.9 93.4M672.8 105.2L670.7 108M670.7 108L668.6 111.7M671 107.9L670.9 109.7M668.7 104.8L668.8 107.1M668.8 107.1L668.9 110M668.9 109.4L670 110.5M668.7 104.8L668.1 103.6M668.1 103.6L667.4 102.8M667.7 103.3L666.2 102.8M667.9 103.6L666 102.6M667 105.5L667 107.8M667 107.8L667.1 110.8M667.1 109.3L665.5 111.5M667 105.5L662.3 106M667 105.5L670.1 106.8M667 105.5L663.6 107M667 105.5L664.2 107M667 105.5L668.2 103.7M667 105.5L669.1 104.8M664.7 115.2L664.3 113.3M664.3 113.3L664 112.1M664.1 112.7L661.2 112.1M662.8 114.2L660.2 115.3M660.2 115.3L657.6 117.1M661.1 115.1L660.3 113.5M658.2 116.8L657.7 118.8M661.1 115.1L659.2 112.9M658.7 113.8L657.1 112.2M657.1 112.2L655.4 111.3M657.6 113L656 113.8M657.7 113.1L659.3 110.4M655.8 111.5L656.4 108.6M657 114.5L655.4 117.5M655.4 117.5L653.9 121.3M654.4 120.2L655.2 123M656.1 116.5L657.2 118.9M654.7 119.5L656 122.1M657 114.5L659 113.7M657 114.5L654.1 119.2M657 114.5L658.4 118M657 114.5L656.6 112.3M657 114.5L659.3 116.3M657 114.5L660.6 118.5M729.7 89.2L730.2 92.6M730.2 92.6L730.7 96.7M730 91.5L732.6 92.4M733 90L735.8 88.7M735.8 88.7L738.6 88.4M734.5 89.6L736.4 90.3M736.4 89L738.1 89.1M735.9 89.2L738 91.1M735.9 92.1L735.7 94.2M735.7 94.2L735.6 96.8M735.7 95.5L736.7 96.6M737.1 93.2L740.1 93.3M740.1 93.3L743.1 94.3M742 94.1L742.1 91M738 94L734.5 93M738 94L741.4 94M738 94L739.6 93.1M738 94L738.8 92M738 94L738.5 92.6M738 94L741.3 96.7M744.8 104.8L745.3 108.2M745.3 108.2L745.9 112.4M745.1 107.1L747.7 108.6M749.6 105.9L752.2 105M752.2 105L754.8 104.9M753.8 105.1L753.9 102.7M752 105.5L751.5 103.3M754.1 105.1L754.8 102M751 107.1L753.6 105.5M753.6 105.5L756.1 104.9M755.1 105.4L757.1 105.7M754.8 105.5L757.4 106M754.1 105.8L756.8 105.7M752 108L756.3 107.7M752 108L751 105.8M752 108L749.1 112.1M752 108L751.8 112.4M752 108L752.3 111.6M752 108L753.1 106.2M752.3 115.4L755.1 115.5M755.1 115.5L758 116.5M757.1 116.4L758.3 117.5M756.3 116.2L757.5 114M757.2 116.4L758.8 118M755 118L758.1 118.7M758.1 118.7L761.3 120.3M759 119.5L760.1 118.3M759.3 119.6L761.1 117.6M755.6 119.2L757.4 119.2M757.4 119.2L759.2 119.8M757.5 119.5L759.1 120.5M758.2 119.6L758.7 118.1M757 124L754.1 125.8M754.1 125.8L751.1 128.6M751.9 128L752.4 130.6M758 127L755.9 130.4M755.9 130.4L753.8 134.8M755.5 131.6L755.8 133.2M758.8 128.6L761.3 128.8M761.3 128.8L763.8 129.7M762.2 129.3L763.3 132.3M759.7 130.3L762.9 132.1M762.9 132.1L766 135M763.5 133.1L765.3 131.2M761.4 133.1L764.1 132.9M764.1 132.9L766.9 133.7M763.3 133.3L764.9 134.9M762 134L759.1 134M762 134L761.6 139.1M762 134L758.8 132.9M762 134L763.5 132.5M762 134L758.6 135.9M762 134L759.2 138.1M730.7 112.1L733.3 113.2M733.3 113.2L735.8 115M735.2 114.7L736.2 112.7M733.8 113.9L736.2 112.1M732.4 116.9L729.8 119.7M729.8 119.7L727.2 123.5M730.6 119.2L727.5 119.2M733.5 120.4L736 120.8M736 120.8L738.4 122M735.4 121L736.5 123.2M736.5 121.4L737.5 123.7M737 121.6L738.7 123.6M734.8 125.2L737.4 126.3M737.4 126.3L739.9 128.3M738.6 127.5L739.3 129.1M739.3 127.9L740.9 126.4M735.2 126.8L733.8 128.4M733.8 128.4L732.3 130.6M733.4 129.2L733.6 130.8M736 130.1L737.8 131.7M737.8 131.7L739.5 134M737.5 131.8L737.3 134.1M736.7 133.4L735.3 136.5M735.3 136.5L734 140.5M735.1 137.7L733 138.2M734.5 139.1L735.2 141.4M737.3 136.6L740.7 137.9M740.7 137.9L744.2 140.2M740 138.1L740.5 139.6M737.8 140L736.3 142.2M736.3 142.2L734.8 145M736.9 141.4L738 144.4M736.8 141.7L736.9 144M735.4 144L736.3 146.5M738.5 145L740.3 146.1M740.3 146.1L742.1 147.9M740.2 146.4L741.8 144.8M739 148L736.3 150.6M736.3 150.6L733.6 154.1M737.2 150.1L736.6 152.8M737.4 149.8L737.7 151.5M739.5 150L741.5 151.4M741.5 151.4L743.6 153.5M743.1 153.1L743.2 155.6M740.6 153.8L738.7 156.9M738.7 156.9L736.8 161M737.2 160.3L734.9 160.2M741.7 156.9L739.8 158.5M739.8 158.5L738 160.7M739.8 158.8L737.2 157.8M742 158L744.2 156M742 158L745.7 158.3M742 158L740.1 160.1M742 158L738.7 158.6M742 158L747 159.5M742 158L740.3 163.1" stroke="#7a7a7a" stroke-width="0.85" fill="none" stroke-linecap="round"/><path d="M697 50.8L697 51.7L697 52.9L697 54.3L697 55.9L697 57.6L697 59.4L697 61.2L697 63.1L697 64.9L697 66.7L697 68.3L697 69.8L697 71.4L697 73L697 74.4L697 75.8L697 77.2L697 78.6L697 80L696.9 81.5L696.9 83.1L696.9 84.8L696.9 86.2L696.8 87.7L696.8 89.2L696.8 90.7L696.8 92.3L696.7 93.9L696.7 95.5L696.7 97.1L696.6 98.7L696.6 100.3L696.5 101.8L696.4 103.2L696.3 104.5L696.2 106.2L696 107.8L695.8 109.4L695.5 111L695.2 112.5L695 114.1L694.7 115.7L694.5 117.2L694.2 118.8L694 120.4L693.9 122.1L693.7 123.8L693.6 125.4L693.5 127L693.4 128.5L693.3 130.1L693.2 131.7L693.2 133.3L693.2 134.9L693.2 136.5L693.3 138.2L693.3 139.9L693.4 141.6L693.5 143.2L693.7 144.9L693.8 146.5L694 148L694.2 149.6L694.7 151.7L695.2 153.5L695.8 155.1L696.3 156.5L696.8 157.9L697.2 159.7L697.5 160.9L697.8 162.4L698.1 163.9L698.4 165.4L698.7 167L699 168.7L699.3 170.3L699.5 171.9L699.7 173.5L699.8 175L699.8 176.5L699.7 178L699.6 179.6L699.4 181.2L699.2 182.8L699 184.4L698.8 186L698.6 187.6L698.4 189.3L698.3 190.9L698.3 192.6L698.3 194.3L698.4 196L698.4 197.6L698.5 199.2L698.6 200.8L698.7 202.3L698.8 203.7L698.9 205.1L699.1 207L699.3 208.8L699.5 210.5L699.7 212L699.9 213.6L700.1 215.1L700.5 217L700.8 219L701.1 220.8L701.4 222.4L701.6 223.5L702.4 223.5L702.5 222.3L702.6 220.8L702.8 218.9L702.9 216.9L703.1 214.9L703.1 213.4L703.1 211.8L703.1 210.2L703 208.6L703.1 206.8L703.1 204.9L703.1 203.6L703.1 202.1L703.1 200.6L703.1 199.1L703.2 197.5L703.2 196L703.3 194.4L703.4 192.7L703.5 191.1L703.6 189.7L703.8 188.2L704 186.7L704.2 185.1L704.4 183.5L704.7 181.8L704.9 180.1L705 178.4L705.2 176.7L705.2 175L705.2 173.3L705.2 171.5L705.2 169.7L705 168L704.9 166.2L704.8 164.5L704.6 162.8L704.4 161.3L704.2 159.8L704 158.3L703.6 156.1L703 154.3L702.5 152.7L702 151.3L701.6 150L701.4 148.4L701.2 147.2L701.2 145.8L701.1 144.4L701 142.9L701 141.3L701 139.8L701.1 138.2L701.1 136.6L701.2 135.1L701.3 133.6L701.4 132.2L701.5 130.7L701.7 129.2L701.9 127.8L702.1 126.3L702.3 124.7L702.5 123.2L702.8 121.6L703 120.2L703.2 118.7L703.5 117.3L703.9 115.8L704.2 114.2L704.5 112.6L704.8 110.9L705.1 109.2L705.4 107.4L705.7 105.5L705.8 104L706 102.4L706.1 100.9L706.3 99.2L706.4 97.6L706.5 96L706.6 94.3L706.7 92.7L706.8 91.1L706.8 89.5L706.9 88L707 86.6L707.1 85.2L707.2 83.5L707.3 82L707.5 80.5L707.6 79L707.7 77.6L707.8 76.3L707.9 74.8L708 73.4L708.1 71.8L708.2 70.2L708.3 68.7L708.4 67L708.5 65.3L708.6 63.4L708.7 61.6L708.9 59.7L709 58L709.1 56.3L709.2 54.7L709.3 53.3L709.3 52.1L709.4 51.2Z" fill="url(#tgN)" stroke="#3a3a3a" stroke-width="0.7"/><path d="M700.7 86.6L699.8 86.7L698.5 86.7L697.3 87.2L695.8 87.6L694.4 88.5L693 89.5L691.4 90.3L689.9 91.5L688.3 92.5L687 93.7L685.9 94.7L684.7 95.6L683.6 96.5L682.7 97.9L681.6 99L680.4 100L679.2 101.1L678.3 102.4L677.3 103.6L676.1 104.6L675.2 106L674 106.9L673.1 108L672 109.2L670.8 110.3L669.5 111.3L668.2 112.3L667.1 113.6L665.8 114.5L664.6 115.6L663.5 116.7L662.3 117.6L661.4 118.6L660.3 119.5L659.4 120.3L657.7 121.6L656.4 122.8L655.2 123.8L654.1 124.6L653 125.4L651.6 126.3L650.1 126.9L648.5 127.6L646.7 128.4L644.9 129L643.2 129.5L641.8 130L640.9 130.6L641.1 131.4L642.3 131.4L643.6 130.9L645.3 130.4L647.2 129.7L649.1 129.2L650.8 128.5L652.4 127.7L653.9 126.9L655.2 126.1L656.4 125.2L657.6 124.3L659 123.2L660.6 121.7L661.6 121L662.6 120.1L663.8 119.4L664.9 118.4L666.2 117.5L667.4 116.5L668.6 115.3L670 114.4L671.2 113.2L672.4 112.1L673.7 111L674.9 110L676.2 109.1L677.1 107.8L678.5 106.9L679.4 105.7L680.6 104.6L681.8 103.5L682.8 102.3L683.8 101.1L684.9 100L686.1 99.2L687.1 98.1L688 97.1L689 96.3L690.5 95.4L691.8 94.3L693.4 93.5L694.8 92.5L696.3 91.8L697.8 91.1L698.9 90.1L700 89.3L700.7 88.2L701.3 87.4ZM698.7 102.6L697.7 103.1L696.5 103.8L695 104.7L693.5 105.7L692 106.9L690.5 108.3L689.2 109.7L687.8 110.8L687 112.1L685.5 113.7L684.7 115.4L684.1 117L683.5 118.7L682.8 120.6L682.4 121.9L682.2 123.3L681.8 124.7L681.5 126.3L681.2 127.8L680.7 129.4L680.5 131.2L680.2 133L680 134.8L679.9 136.2L679.6 137.6L679.4 139.1L679.3 140.6L679.3 142.2L679.2 143.8L679 145.3L678.9 147L678.8 148.6L678.7 150.2L678.6 151.8L678.4 153.4L678.3 154.9L678.1 156.5L677.9 158L677.9 159.5L677.7 161.1L677.5 162.6L677.2 164.1L677.1 165.7L677 167.2L676.8 168.8L676.6 170.3L676.4 171.8L676.1 173.4L675.9 174.9L675.7 176.5L675.4 178.2L675.2 179.9L674.9 181.7L674.6 183.5L674.3 185.3L673.9 187L673.6 188.7L673.4 190.2L673 191.6L672.8 192.9L672.6 194L672.7 194.9L673.3 195.1L673.7 194.2L673.9 193.1L674.1 191.9L674.3 190.4L674.7 188.9L675 187.2L675.2 185.5L675.5 183.7L675.9 181.9L676.2 180.1L676.6 178.4L676.8 176.7L677.1 175.1L677.3 173.5L677.5 172L677.8 170.5L677.9 168.9L678.1 167.4L678.4 165.8L678.6 164.3L678.8 162.8L678.9 161.2L679.1 159.7L679.4 158.2L679.6 156.6L679.7 155.1L679.9 153.5L680.1 151.9L680.2 150.3L680.4 148.7L680.6 147.1L680.8 145.5L680.8 143.9L681 142.3L681.3 140.8L681.5 139.3L681.6 137.9L681.7 136.5L682 135.2L682.4 133.3L682.6 131.5L683.1 129.9L683.2 128.2L683.6 126.7L684 125.3L684.3 123.9L684.8 122.6L685.2 121.4L685.7 119.4L686.3 117.9L687 116.7L688 115.5L689 113.9L690.1 113L691.2 111.8L692.6 110.6L694.1 109.3L695.5 108L696.7 106.7L697.8 105.4L698.8 104.3L699.3 103.4ZM697.7 65.8L697 66.5L696.3 67.6L695.3 68.7L694.2 70L693.1 71.5L692 73.2L691.2 75L690.4 76.8L689.8 78.7L689.5 80.1L689.3 81.6L689 83.1L689 84.7L688.9 86.3L688.8 87.9L688.6 89.5L688.8 91.1L688.8 92.6L688.7 94.1L688.7 95.6L688.5 96.9L688.4 98.6L688.4 100.2L688.2 101.7L688.1 103.1L688 104.6L687.7 106L687.8 107.6L687.6 109.2L687.5 110.9L687.3 112.3L687.4 113.8L687.3 115.3L687.2 116.9L687 118.5L687.1 120.1L687.1 121.7L686.9 123.4L686.9 125L686.8 126.7L686.7 128.3L686.6 130L686.7 131.5L686.5 133L686.4 134.5L686.4 136L686.4 137.6L686.3 139.1L686.3 140.7L686.1 142.2L686.1 143.8L686 145.3L685.9 146.9L685.8 148.4L685.7 150L685.7 151.5L685.6 153L685.5 154.6L685.5 156.1L685.4 157.7L685.2 159.2L685.1 160.7L685 162.3L684.8 163.8L684.7 165.3L684.7 166.9L684.6 168.4L684.5 170L684.4 171.5L684.3 173.1L684.1 174.6L684.1 176.2L684 177.8L684 179.3L683.8 180.9L683.7 182.4L683.7 184L683.7 185.5L683.5 187L683.5 188.5L683.5 190L683.6 191.6L683.6 193.3L683.6 195.1L683.8 196.8L683.9 198.6L684 200.3L684.1 201.9L684.2 203.4L684.3 204.8L684.4 206.1L684.5 207.2L684.7 208L685.3 208L685.4 207.1L685.3 206L685.2 204.8L685.1 203.4L685 201.8L684.8 200.2L684.7 198.5L684.7 196.8L684.6 195L684.5 193.3L684.5 191.6L684.5 190L684.5 188.5L684.5 187L684.5 185.5L684.6 184L684.7 182.5L684.8 180.9L684.8 179.4L685 177.8L685.1 176.3L685.3 174.7L685.3 173.1L685.4 171.6L685.5 170L685.6 168.5L685.7 167L685.9 165.4L686 163.9L686.1 162.3L686.2 160.8L686.3 159.3L686.4 157.7L686.5 156.2L686.7 154.7L686.8 153.1L686.9 151.6L687.1 150L687.2 148.5L687.3 147L687.3 145.4L687.3 143.8L687.6 142.3L687.5 140.7L687.6 139.2L687.7 137.6L687.8 136.1L687.9 134.6L688 133.1L688 131.5L688.2 130L688.3 128.4L688.4 126.8L688.4 125.1L688.5 123.4L688.6 121.8L688.7 120.2L688.9 118.6L688.9 117L688.9 115.4L689.1 113.9L689.3 112.5L689.3 111.1L689.5 109.3L689.5 107.7L689.8 106.2L689.8 104.7L689.9 103.3L690.2 101.9L690.3 100.4L690.6 98.8L690.7 97.1L690.7 95.7L690.8 94.2L690.8 92.7L690.9 91.1L691.2 89.6L691.1 88L691.1 86.4L691.2 84.9L691.5 83.4L691.6 81.9L691.9 80.6L692.2 79.3L692.7 77.7L693.5 76.1L694.4 74.5L695.2 72.8L696 71.2L696.7 69.7L697.4 68.3L698 67.2L698.3 66.2ZM704.7 62.3L705.1 63.4L705.8 64.5L706.7 65.9L707.9 67.2L709.1 68.5L710.3 69.9L711.6 71L712.6 72.2L713.9 73.3L715 74.6L716 75.9L716.9 77.2L717.9 78.5L718.8 79.7L719.9 80.8L720.5 82.2L721.2 83.4L722 84.5L722.9 85.7L723.8 87.2L725 88.7L725.8 89.8L726.5 91.1L727.6 92.2L728.6 93.5L729.6 94.8L730.7 96.1L731.9 97.3L733 98.5L734.1 99.7L735.1 100.8L736.5 102.1L737.8 103.3L739.1 104.2L740.4 105.4L741.7 106.3L742.9 107.4L744.2 108.4L745.3 109.6L746.3 110.6L747.2 111.9L748.2 113.2L749.2 114.5L750.3 115.7L751.2 117.1L752.1 118.3L753 119.4L753.8 120.5L754.4 121.4L756 123.7L756.9 125.3L757.7 126.2L758.3 125.8L758 124.7L757.1 123L755.6 120.6L754.9 119.7L754.2 118.6L753.5 117.3L752.6 116L751.6 114.8L750.7 113.4L749.7 112L748.7 110.7L747.6 109.6L746.7 108.4L745.4 107.1L744.3 105.8L743 104.8L741.8 103.6L740.4 102.7L739.3 101.5L738.1 100.4L736.9 99.2L735.9 98.1L734.8 96.9L733.8 95.7L732.8 94.3L731.7 93.1L730.7 91.8L729.7 90.6L728.8 89.3L727.8 88.3L727 87.3L726 85.7L725.1 84.4L724.6 83.1L724 81.8L723.2 80.5L722.1 79.2L721.5 77.8L720.5 76.5L719.6 75.2L718.5 74L717.4 72.6L716.4 71.3L715.4 69.8L714.2 68.6L713.1 67.2L711.6 66L710.3 64.7L708.9 63.6L707.5 62.8L706.4 62L705.3 61.7ZM736.7 102.1L736.8 103L737 104.2L737.1 105.7L737.7 107.2L738.2 108.9L738.8 110.5L739.4 112.1L739.7 113.8L740.3 115.2L740.7 116.7L741.1 118.3L741.4 119.8L741.8 121.3L742.1 122.8L742.5 124.3L742.9 125.7L743.5 127.2L743.9 128.7L744.5 130.1L745.1 131.6L745.9 132.9L746.5 134.3L747.2 135.7L747.8 137L748.6 138.2L749.3 139.9L750.1 141.5L751 142.9L751.8 144.4L752.7 145.8L753.6 147.3L754.6 148.7L755.6 150.2L756.7 151.5L757.8 152.9L758.8 154.1L759.7 155.3L760.9 156.9L762.1 158.3L763 159.4L763.8 160.2L764.2 159.8L763.6 158.9L762.7 157.7L761.6 156.3L760.3 154.7L759.4 153.6L758.4 152.3L757.4 151L756.4 149.5L755.3 148.2L754.4 146.7L753.5 145.3L752.7 143.9L751.9 142.4L751.1 140.9L750.3 139.4L749.4 137.8L748.9 136.5L748.2 135.2L747.6 133.8L746.9 132.5L746.3 131L745.7 129.6L745.1 128.2L744.5 126.8L744.2 125.4L743.8 123.9L743.4 122.5L743 121L742.8 119.5L742.5 117.9L742.1 116.4L741.7 114.8L741.4 113.3L740.8 111.7L740.4 110L740 108.3L739.4 106.7L739 105.1L738.3 103.8L737.7 102.7L737.3 101.9ZM705.6 73.2L705.8 74.1L705.9 75.4L706.2 77.1L706.7 78.7L707.1 80.6L707.9 82.2L708.7 83.9L709.7 85.4L711 86.5L712.2 87.6L713.6 88.5L714.7 89.6L715.8 90.7L716.9 91.8L717.6 93.1L718.4 94.3L719.1 95.8L719.9 97.1L720.7 98.6L721.5 100.1L722.2 101.7L722.7 103.5L723.4 104.7L723.9 106L724.4 107.4L724.8 108.9L725.2 110.4L725.8 111.8L726.2 113.4L726.8 114.8L727.3 116.3L727.5 117.8L728 119.2L728.3 120.8L728.7 122.4L729.1 124L729.4 125.7L729.7 127.3L729.8 128.9L730.1 130.5L730.5 132.1L730.8 133.7L731.1 135.2L731.6 136.8L731.8 138.4L732.2 139.9L732.6 141.4L733.1 142.8L733.5 144.4L734.1 145.9L734.7 147.5L735.2 149.3L735.7 150.6L736.3 151.9L736.8 153.3L737.5 154.6L738.2 156L738.8 157.5L739.4 158.9L740.2 160.3L740.8 161.8L741.5 163.2L742.2 164.6L742.7 166L743.4 167.3L744.1 168.8L744.7 170.4L745.4 171.8L746.1 173.3L746.8 174.8L747.5 176.2L748.1 177.7L748.7 179.1L749.2 180.5L749.9 181.9L750.4 183.2L751.1 184.9L751.7 186.6L752.4 188.4L753 190.1L753.6 191.7L754.2 193.3L754.6 194.7L755.1 196L755.5 197.2L756.1 199.6L756.3 201.1L756.6 202L757.4 202L757.5 201L757.2 199.4L756.5 196.8L756.2 195.7L755.8 194.3L755.2 192.9L754.7 191.3L754.1 189.7L753.5 187.9L752.9 186.2L752.2 184.5L751.6 182.8L751 181.4L750.5 180L749.8 178.6L749.2 177.2L748.6 175.7L747.9 174.3L747.3 172.8L746.6 171.3L746 169.8L745.3 168.3L744.6 166.7L744.1 165.4L743.4 164L742.7 162.6L742.2 161.1L741.5 159.7L740.9 158.3L740.2 156.8L739.5 155.4L738.9 154L738.4 152.6L737.7 151.3L737.3 149.9L736.8 148.7L736.1 147L735.6 145.4L735.2 143.9L734.7 142.4L734.4 140.9L734 139.5L733.7 137.9L733.2 136.4L732.9 134.8L732.6 133.3L732.3 131.8L732.1 130.2L731.9 128.6L731.4 127L731.2 125.3L730.9 123.7L730.7 122L730.5 120.4L730 118.8L729.7 117.2L729.2 115.8L728.8 114.3L728.5 112.7L728.1 111.2L727.7 109.6L727.1 108.1L726.5 106.7L726 105.3L725.6 103.9L725.3 102.5L724.4 100.8L723.7 99.2L723.1 97.5L722.4 95.9L721.8 94.3L720.9 92.9L720.1 91.5L719.1 90.2L718 88.7L716.8 87.4L715.4 86.3L714.3 85.1L713.1 84.1L712.2 83.1L711.3 82.1L710.4 80.9L709.8 79.4L708.9 77.9L708.3 76.3L707.5 74.9L706.9 73.7L706.4 72.8ZM706.6 91.1L706.7 92.2L706.9 93.4L707.3 94.9L707.8 96.5L708.1 98.3L708.8 100.1L709.3 102L710.2 103.7L710.7 105.5L711.2 106.9L711.7 108.3L712.3 109.8L712.9 111.2L713.5 112.7L714.2 114.2L714.8 115.6L715.3 117.2L715.9 118.6L716.4 120L717 121.4L717.5 123.1L718.1 124.7L718.9 126.2L719.5 127.7L720 129.3L720.7 130.7L721.1 132.2L721.8 133.7L722.1 135.3L722.5 136.8L722.9 138.3L723.3 139.8L723.6 141.3L723.9 142.8L724.1 144.4L724.5 145.9L724.8 147.5L725.2 149.2L725.7 150.7L726.1 152.2L726.3 153.9L726.8 155.5L727.2 157.1L727.6 158.7L728 160.4L728.4 162L728.8 163.6L729.4 165.2L729.9 166.8L730.4 168.3L731.1 169.8L731.6 171.3L732.3 172.8L732.9 174.3L733.7 175.7L734.3 177.2L734.9 178.7L735.5 180.2L736.1 181.7L736.8 183.3L737.4 184.8L738 186.4L738.6 188L739.3 189.5L739.9 191L740.4 192.5L741 193.9L741.5 195.2L742.3 197L742.9 198.9L743.6 200.7L744.2 202.4L744.8 203.9L745.1 205.2L745.7 206.1L746.3 205.9L746.2 204.9L745.6 203.6L745.1 202.1L744.5 200.4L743.9 198.6L743.1 196.7L742.5 194.8L742 193.5L741.4 192.1L740.8 190.6L740.2 189.1L739.7 187.5L739 186L738.3 184.4L737.7 182.9L737.2 181.3L736.5 179.8L735.9 178.3L735.3 176.8L734.6 175.3L734.1 173.8L733.5 172.3L732.9 170.8L732.2 169.4L731.7 167.8L731.2 166.3L730.6 164.8L730.2 163.2L729.7 161.7L729.3 160L728.8 158.4L728.5 156.8L728.1 155.2L727.8 153.5L727.3 151.9L727 150.4L726.8 148.8L726.4 147.2L726.1 145.6L725.9 144L725.5 142.5L725.2 141L724.9 139.4L724.7 137.9L724.4 136.3L723.9 134.7L723.3 133.2L723 131.6L722.3 130.1L722 128.5L721.3 127L720.8 125.5L720.3 123.8L719.7 122.2L719 120.6L718.6 119.2L718 117.8L717.5 116.3L716.9 114.8L716.4 113.3L715.9 111.8L715.4 110.3L714.9 108.8L714.4 107.3L713.8 105.9L713.3 104.5L712.6 102.8L712.1 101L711.3 99.2L710.8 97.4L709.9 95.8L709.3 94.2L708.6 92.8L708 91.7L707.4 90.9ZM704.7 111.2L705.3 112.1L706.1 113.4L707.2 114.6L708.2 116.3L709.6 117.6L710.8 119.1L712 120.5L712.9 121.8L713.9 123.2L715 124.5L715.8 125.8L716.7 127L717.4 128.4L718.2 129.8L719 131.4L719.5 132.8L720.1 134.1L720.6 135.6L721 137.2L721.4 138.8L721.8 140.4L722.4 142L722.7 143.6L723.1 145.2L723.4 146.7L723.8 148.1L724.1 149.6L724.5 151.1L724.8 152.6L725.2 154.1L725.6 155.6L725.7 157.1L726 158.6L726.2 160.1L726.4 161.6L726.6 163.1L726.7 164.5L726.8 166L726.8 167.5L726.9 169L727 170.5L727.1 172L727.3 173.5L727.3 175.1L727.6 176.6L727.7 178.1L727.9 179.6L728.1 181.1L728.3 182.6L728.4 184.2L728.8 185.7L728.9 187.2L729.2 188.6L729.4 190.1L729.7 191.7L730.2 193.4L730.6 195L731.1 196.6L731.4 198.2L731.8 199.8L732.1 201.3L732.4 202.7L732.5 204L732.5 206L732.2 207.9L731.7 209.7L731.3 211.4L730.8 212.8L730.7 213.9L731.3 214.1L731.7 213.1L732.1 211.7L732.7 210L733.1 208.1L733.4 206.1L733.5 204L733.4 202.6L733.2 201.1L732.9 199.5L732.5 198L732 196.4L731.6 194.8L731.2 193.1L730.9 191.5L730.6 189.9L730.3 188.4L730.1 187L729.8 185.5L729.7 184L729.4 182.5L729.2 181L729.1 179.5L728.9 177.9L728.8 176.4L728.7 174.9L728.4 173.5L728.5 172L728.4 170.5L728.3 169L728.3 167.5L728.2 166L728.1 164.5L728 162.9L728 161.4L727.8 159.9L727.6 158.4L727.4 156.8L727 155.3L726.8 153.8L726.5 152.3L726.2 150.7L725.9 149.2L725.6 147.7L725.3 146.2L724.9 144.8L724.5 143.2L724.1 141.5L723.8 139.9L723.4 138.2L722.9 136.6L722.4 135.1L722 133.5L721.6 132L721 130.6L720.3 128.9L719.6 127.3L718.7 125.8L718 124.4L717 123L716.2 121.6L715.1 120.2L713.9 118.9L712.7 117.4L711.3 116L710.1 114.5L708.5 113.4L707.3 112.2L706.1 111.4L705.3 110.8ZM699.8 127.2L700.4 128.1L701.4 129.1L702.6 130.3L703.7 131.7L705.1 133L706.3 134.3L707.3 135.5L708 136.8L708.8 137.9L709.3 139.2L709.8 140.5L710.4 141.9L710.9 143.4L711.2 145.2L711.5 146.4L711.6 147.8L711.8 149.3L711.7 150.9L711.9 152.5L712 154.1L712.1 155.8L712 157.5L712.1 159.3L712.3 161.1L712.5 162.5L712.6 164.1L712.8 165.7L712.9 167.3L713.1 169L713.3 170.6L713.4 172.3L713.6 173.9L713.9 175.5L714.1 177.1L714.3 178.6L714.4 180.1L714.7 181.8L715 183.4L715.3 184.9L715.6 186.4L715.9 187.9L716.2 189.4L716.5 190.8L716.8 192.2L717.1 193.7L717.5 195.1L717.9 196.8L718.4 198.4L718.9 200.1L719.4 201.8L719.8 203.4L720.3 204.9L720.7 206.5L721.2 207.8L721.5 209.1L722.1 211.2L722.6 213.1L723 214.8L723.3 216.1L723.7 217.1L724.3 216.9L724.2 215.9L723.9 214.6L723.5 212.9L723 211L722.5 208.9L722 207.6L721.7 206.2L721.2 204.7L720.8 203.1L720.3 201.5L719.7 199.8L719.3 198.2L718.9 196.5L718.5 194.9L718.2 193.4L717.8 192L717.5 190.6L717.2 189.2L716.9 187.7L716.6 186.2L716.3 184.7L716.1 183.2L715.8 181.6L715.6 179.9L715.3 178.5L715.1 177L714.9 175.4L714.8 173.8L714.7 172.1L714.5 170.5L714.3 168.9L714.2 167.2L714 165.6L713.9 164L713.7 162.4L713.7 160.9L713.6 159.2L713.5 157.5L713.4 155.8L713.4 154.1L713.4 152.4L713.4 150.8L713.2 149.2L713.2 147.7L713 146.2L712.8 144.8L712.4 143.1L712 141.4L711.6 139.9L711 138.4L710.2 137.2L709.7 135.8L708.7 134.5L707.7 133.1L706.5 131.7L705.1 130.3L703.6 129.2L702.2 128.2L701.1 127.3L700.2 126.8ZM698.7 178.8L697.7 179.2L696.5 180L695.4 181.2L694.4 182.7L693.4 184.3L692.4 185.9L691.4 187.4L690.8 188.9L690.3 190.5L689.6 192L689.2 193.6L688.7 195.2L688.3 196.8L688.2 198.4L687.8 199.8L687.4 201.6L686.9 203.4L686.7 205.2L686.5 206.8L686.3 208.5L686.3 210L686.5 211.9L686.8 213.7L687.3 215.3L687.7 216.7L688.2 217.6L688.8 217.4L688.8 216.4L688.4 215L688.1 213.4L687.8 211.7L687.7 210L687.8 208.6L687.9 207L688.2 205.4L688.7 203.8L688.9 202L689.4 200.2L689.8 198.8L690.4 197.3L690.8 195.8L691.2 194.2L691.8 192.7L692.3 191.2L693 189.8L693.6 188.6L694.3 187.1L695.3 185.6L696.5 184.2L697.6 183L698.6 181.7L699.1 180.3L699.3 179.2ZM722.8 89.1L723 90.3L723.8 91.5L724.7 93L725.5 94.5L726.2 96.2L726.5 97.4L726.6 98.7L726.8 100.1L726.8 101.6L726.9 103.2L727 104.8L727.2 106.4L727.5 108.1L727.8 109.6L728 111.4L728.4 113.2L728.9 115L729.3 116.7L729.7 118.4L730 119.9L730.3 121.2L730.7 122.1L731.3 121.9L731.2 120.9L731 119.7L730.6 118.2L730.3 116.5L729.8 114.7L729.5 112.9L729.1 111.1L728.8 109.5L728.5 107.9L728.4 106.3L728.3 104.7L728.3 103.1L728.3 101.5L728.2 100L728.2 98.5L728 97.1L727.8 95.8L727.2 93.8L726.2 92.1L725.1 90.6L724.2 89.4L723.2 88.9ZM706.7 80.1L706.7 81.2L707 82.4L707.5 83.8L707.9 85.4L708.7 87L709.5 88.7L710.2 90.4L710.9 92.1L711.5 93.8L712.1 95.3L712.4 96.8L712.9 98.2L713.3 99.7L713.7 101.2L713.9 102.7L714.2 104.2L714.5 105.7L714.8 107.2L715.3 108.7L715.8 110.2L716.1 111.7L716.6 113.2L717.1 114.7L717.6 116.2L718.1 117.7L718.6 119.2L719 120.7L719.5 122.2L719.9 123.7L720.4 125.2L720.9 126.7L721.3 128.2L721.7 129.8L722.1 131.3L722.6 132.8L723 134.4L723.4 135.9L723.8 137.3L724.2 138.7L724.5 140.1L724.8 141.8L725.1 143.6L725.5 145.3L725.8 147L726 148.6L726.2 150L726.3 151.2L726.7 152L727.3 152L727.4 151L727.2 149.8L727 148.4L726.7 146.9L726.4 145.2L726.2 143.4L725.9 141.6L725.5 139.9L725.2 138.5L724.9 137.1L724.5 135.6L724.1 134.1L723.7 132.5L723.3 131L722.9 129.4L722.4 127.9L722 126.4L721.6 124.8L721.2 123.3L720.7 121.8L720.3 120.3L719.8 118.8L719.3 117.3L718.9 115.8L718.4 114.3L718.1 112.8L717.7 111.3L717.2 109.8L716.9 108.3L716.7 106.8L716.4 105.3L716.1 103.8L715.8 102.3L715.4 100.8L715.1 99.3L714.8 97.8L714.5 96.2L713.9 94.7L713.5 93.1L712.8 91.4L712.2 89.6L711.5 87.9L710.8 86.1L710.3 84.4L709.4 83L708.7 81.7L708 80.6L707.3 79.9ZM705.7 100.1L705.7 101.1L705.8 102.4L706 104L706.6 105.5L707.1 107.3L707.9 109L708.5 110.7L709.2 112.3L709.6 113.8L710.2 115.1L710.9 116.5L711.5 117.9L712.1 119.4L712.7 120.8L713.3 122.2L713.9 123.7L714.3 125.2L714.7 126.6L715.1 128.1L715.4 129.6L715.7 131.1L716.1 132.7L716.3 134.2L716.7 135.8L716.9 137.3L717.1 138.7L717.5 140.1L717.8 141.8L718.2 143.6L718.5 145.4L719 147L719.3 148.6L719.6 150L719.8 151.2L720.2 152.1L720.8 151.9L720.8 151L720.6 149.8L720.3 148.4L719.9 146.8L719.6 145.1L719.3 143.4L718.9 141.6L718.5 139.9L718.3 138.5L718 137.1L717.7 135.6L717.5 134L717.3 132.5L717 130.9L716.7 129.3L716.4 127.8L716.1 126.2L715.7 124.8L715.2 123.3L714.7 121.7L714.2 120.2L713.7 118.7L713 117.3L712.5 115.9L711.9 114.4L711.5 113L710.8 111.7L710.3 110.1L709.8 108.3L709.4 106.5L708.7 104.8L708.3 103.2L707.6 101.8L706.9 100.7L706.3 99.9ZM673.8 109L673.4 109.9L672.9 111.1L672.4 112.6L672 114.3L671.5 116.1L671 118L670.8 119.9L670.5 121.2L670.3 122.6L670.2 124.1L669.9 125.6L669.8 127.2L669.5 128.7L669.3 130.3L669.1 131.9L669 133.4L668.8 134.9L668.8 136.4L668.6 137.9L668.5 139.3L668.4 140.8L668.3 142.2L668.1 143.7L668.1 145.2L668 146.7L668 148.3L668 150L668 151.5L668 153L668.1 154.6L668.2 156.2L668.2 157.8L668.4 159.5L668.5 161.1L668.6 162.8L668.6 164.4L668.7 166L668.9 167.5L669 169L669.2 170.8L669.4 172.6L669.7 174.4L670 176.1L670.2 177.8L670.5 179.5L670.8 181L670.9 182.5L671 183.8L671.1 185L670.9 187.4L670.5 189.1L670 190.4L669.8 191.4L670.2 191.6L670.7 190.7L671.3 189.4L671.7 187.5L671.9 185L671.9 183.8L671.7 182.4L671.5 180.9L671.3 179.4L671.1 177.7L670.8 176L670.6 174.3L670.4 172.5L670.2 170.7L670 169L669.9 167.5L669.8 165.9L669.7 164.3L669.5 162.7L669.4 161.1L669.4 159.4L669.4 157.8L669.2 156.1L669.2 154.5L669.2 153L669.2 151.4L669.2 150L669.2 148.3L669.3 146.8L669.3 145.2L669.4 143.7L669.4 142.3L669.6 140.9L669.7 139.4L669.9 138L669.9 136.5L670.2 135.1L670.3 133.6L670.5 132L670.7 130.5L670.9 128.9L671 127.3L671.4 125.8L671.5 124.3L671.8 122.9L672.1 121.5L672.2 120.1L672.7 118.3L673 116.4L673.4 114.6L673.7 112.9L674 111.4L674.1 110L674.2 109ZM662.8 118L662.6 118.9L662.2 120.1L662 121.6L661.9 123.2L661.7 124.9L661.7 126.7L661.5 128.4L661.4 130L661.2 131.4L661.1 132.8L661 134.3L661 135.7L660.8 137.2L660.6 138.7L660.6 140.3L660.5 142L660.4 143.4L660.4 145L660.3 146.6L660.2 148.3L660.1 150L660.1 151.7L660 153.4L660.1 155L660 156.5L660.1 158L660 159.7L660.1 161.5L660.1 163.1L660.2 164.7L660.3 166.2L660.4 167.6L660.5 168.9L660.6 170L661 172.4L661.4 174L661.8 175.1L662.2 174.9L662 173.9L661.7 172.3L661.4 170L661.3 168.8L661.2 167.6L661.1 166.2L661.1 164.7L661 163.1L661 161.4L661 159.7L660.9 158L661 156.5L661 155L661.1 153.4L661.1 151.7L661.2 150L661.2 148.3L661.3 146.7L661.4 145L661.5 143.5L661.5 142L661.6 140.3L661.8 138.8L661.9 137.3L662 135.8L662.2 134.4L662.4 133L662.5 131.5L662.6 130L662.8 128.5L662.9 126.8L663.1 125L663.2 123.3L663.4 121.7L663.4 120.2L663.3 119L663.2 118ZM653.8 126L653.5 126.9L653.1 128.2L652.9 129.7L652.6 131.4L652.5 133.2L652.5 135L652.3 136.5L652.4 138L652.3 139.6L652.4 141.3L652.5 142.9L652.7 144.5L653 146.1L653.5 147.7L654.2 149.3L655 150.9L655.8 152.4L656.5 153.8L656.9 155L657.1 155.9L656.6 157.2L655.5 158.1L654 158.9L652.7 159.7L650.9 161.5L649.8 162.9L650.2 163.1L651.5 162L653.3 160.3L654.4 159.5L655.9 158.8L657.2 157.7L657.9 156.1L657.8 154.8L657.3 153.4L656.6 152L655.8 150.5L655 148.9L654.4 147.4L654 145.9L653.8 144.4L653.6 142.8L653.5 141.2L653.5 139.6L653.5 138L653.6 136.5L653.5 135L653.7 133.3L653.9 131.6L654 129.9L654.3 128.3L654.3 127L654.2 126ZM679.8 118L679.6 118.9L679.3 120L679.1 121.4L678.9 122.9L678.6 124.6L678.5 126.3L678.3 128.1L678.3 129.9L678 131.7L678 133.4L677.9 134.9L677.8 136.5L677.6 138L677.5 139.5L677.3 140.9L677.4 142.3L677.2 143.8L677.1 145.4L677.1 147.1L677 148.9L677.1 151L677.1 152.2L677 153.6L677.1 155L677.2 156.4L677.1 157.9L677.2 159.5L677.3 161L677.4 162.6L677.5 164.3L677.4 165.9L677.6 167.5L677.6 169.1L677.7 170.7L677.8 172.3L677.8 173.8L677.9 175.3L678 176.7L678.1 178L678.2 179.8L678.3 181.6L678.5 183.3L678.5 184.9L678.6 186.5L678.8 188.1L679 189.6L679.2 191.1L679.3 192.6L679.5 194L679.7 195.4L679.8 196.7L679.9 198.1L680.2 199.9L680.5 201.8L680.8 203.5L681.1 205.2L681.4 206.8L681.7 208.3L682 209.7L682.3 211L682.7 212.1L683.7 214.7L684.9 216.3L685.8 217.1L686.2 216.9L685.5 215.8L684.4 214.3L683.3 211.9L683.1 210.8L682.7 209.5L682.4 208.1L682.1 206.7L681.9 205.1L681.6 203.4L681.4 201.6L681.1 199.8L680.9 197.9L680.7 196.6L680.5 195.3L680.3 193.9L680.2 192.5L680 191L680 189.5L679.8 188L679.7 186.4L679.6 184.8L679.4 183.2L679.3 181.5L679.2 179.8L679.1 178L679.1 176.6L679 175.2L679 173.7L678.8 172.2L678.8 170.7L678.7 169.1L678.7 167.5L678.6 165.9L678.5 164.2L678.5 162.6L678.4 161L678.5 159.4L678.5 157.9L678.4 156.4L678.4 154.9L678.4 153.5L678.3 152.2L678.3 151L678.4 149L678.4 147.1L678.5 145.5L678.7 143.9L678.6 142.4L678.9 141L678.9 139.6L679.1 138.2L679.2 136.6L679.3 135.1L679.5 133.5L679.6 131.8L679.7 130L679.9 128.2L680 126.4L680.2 124.7L680.2 123L680.3 121.5L680.3 120.1L680.3 118.9L680.2 118ZM657.7 155.9L656.8 156.7L656.3 158.1L655.6 159.7L655 161.4L654.6 162.9L654.1 164.5L653.8 166L653.6 167.6L653.7 169.1L654.2 171L655.1 172.9L655.8 174.1L656.2 173.9L655.6 172.6L654.8 170.8L654.3 168.9L654.4 167.6L654.6 166.2L655 164.7L655.4 163.1L655.9 161.7L656.7 160.2L657.3 158.6L658 157.2L657.9 156.1ZM737.9 128L737.7 129L737.8 130.3L738 131.7L738.3 133.4L738.5 135.1L738.9 136.8L739.2 138.5L739.4 140.1L739.7 141.6L740 143.2L740.2 144.7L740.4 146.3L740.6 147.9L740.9 149.4L741.3 150.8L741.6 152.1L742.4 154.1L743.3 156L744.3 157.7L745.1 159.1L745.8 160.1L746.2 159.9L745.7 158.8L744.9 157.4L744 155.7L743.1 153.8L742.4 151.9L742 150.6L741.8 149.2L741.6 147.7L741.3 146.2L741.2 144.6L740.9 143L740.8 141.4L740.6 139.9L740.2 138.3L740 136.6L739.8 134.9L739.5 133.1L739.2 131.5L738.9 130.1L738.6 128.9L738.1 128ZM745.9 112L745.8 113L746.1 114.2L746.5 115.7L747 117.2L747.5 118.9L748.1 120.6L748.7 122.2L749.1 123.8L749.5 125.1L749.9 127L750.2 128.7L750.5 130.4L750.7 132.1L751.1 133.6L751.6 135.2L752.5 136.9L753.7 138.6L754.9 140.1L756 141.3L756.8 142.1L757.2 141.9L756.5 140.9L755.5 139.6L754.4 138.1L753.2 136.5L752.4 134.8L751.9 133.4L751.7 131.9L751.4 130.3L751.2 128.6L751 126.8L750.5 124.9L750.2 123.5L749.6 121.9L749.2 120.2L748.7 118.5L748.2 116.9L747.7 115.3L747.2 113.9L746.8 112.7L746.1 112ZM645.9 130.9L644.9 132L644 133.8L643.5 136L643.7 137.7L644.2 139.6L644.9 141.4L645.7 143.2L646.6 144.9L647.9 146.6L649 148.1L649.9 149.1L650.1 148.9L649.5 147.7L648.4 146.2L647.3 144.5L646.3 142.8L645.6 141.1L645.1 139.3L644.6 137.6L644.5 136L644.9 134.2L645.8 132.5L646.1 131.1ZM751.9 190L751.1 190.9L750.7 192.5L750.1 194.4L749.7 196.3L749.5 198L750 199.7L750.6 201.4L751.5 202.9L752.3 204.2L752.8 205.1L753.2 204.9L752.8 203.9L752 202.6L751.3 201L750.7 199.5L750.5 198L750.5 196.4L751 194.6L751.5 192.8L752.2 191.3L752.1 190ZM714.9 186L714.6 187L714.6 188.4L714.8 190L715.2 191.8L715.4 193.6L715.6 195.4L716.1 197.1L716.4 198.7L716.9 200.3L717.4 202L717.9 203.6L718.4 205.2L719 206.7L719.6 208.2L720.5 209.8L721.4 211.4L722.4 212.9L723.4 214.2L724.2 215.3L724.9 216.1L725.1 215.9L724.7 215L723.9 213.8L723 212.5L722 211L721.1 209.4L720.4 207.8L719.8 206.4L719.3 204.9L718.7 203.4L718.2 201.8L717.7 200.1L717.3 198.5L716.9 196.9L716.7 195.2L716.4 193.5L716.1 191.6L716 189.9L715.9 188.3L715.6 186.9L715.1 186ZM707.4 172L707.2 173L707.2 174.4L707.5 175.9L707.7 177.7L707.8 179.5L708 181.3L708.1 183L708 184.4L708 185.9L707.9 187.4L707.8 189L707.7 190.5L707.6 192L707.5 193.5L707.6 195L707.7 196.8L708 198.6L708.3 200.4L708.5 202.2L708.8 203.7L709 205.1L709.3 206L709.7 206L709.7 205L709.5 203.6L709.2 202.1L708.9 200.3L708.7 198.5L708.5 196.7L708.4 195L708.4 193.5L708.4 192.1L708.5 190.6L708.6 189L708.7 187.5L708.9 186L709 184.5L708.9 183L708.9 181.3L708.7 179.4L708.6 177.6L708.4 175.8L708.3 174.3L708 172.9L707.6 172ZM686.1 96.9L685.3 95.9L683.7 94.9L682.1 94.1L679.8 93.8L678 93.8L678 94.2L679.7 94.4L681.9 94.9L683.2 95.7L684.7 96.7L685.9 97.1ZM676.1 106.9L674.9 105.8L673 104.7L671 104.1L668.6 104.5L666.9 105.3L667.1 105.7L668.8 105.2L671 104.9L672.6 105.6L674.4 106.6L675.9 107.1ZM666.1 115.9L664.9 114.7L663 113.7L661 113.1L658.6 113.5L656.9 114.3L657.1 114.7L658.8 114.2L661 113.9L662.6 114.6L664.4 115.7L665.9 116.1ZM727 89.1L728 89.7L729.6 89.8L731.3 90L732.8 90.4L734.2 91.2L735.6 92.3L736.9 93.4L737.9 94.1L738.1 93.9L737.3 93L736.1 91.8L734.7 90.5L733.2 89.6L731.5 89.1L729.8 88.7L728.2 88.5L727 88.9ZM742 105.2L743.2 105.5L744.8 105.3L746.5 105.3L747.8 105.4L749.4 106.2L750.8 107.4L751.9 108.1L752.1 107.9L751.3 106.8L749.8 105.6L748.2 104.6L746.5 104.3L744.7 104.3L743.1 104.3L742 104.8ZM749.9 114.1L750.7 115L752 115.9L753.4 116.9L754.6 118.3L755.2 119.4L755.7 120.8L756.2 122.4L756.5 124.1L757 125.7L757.7 127.1L758.5 128.8L759.4 130.5L760.4 132L761.1 133.3L761.8 134.1L762.2 133.9L761.7 132.9L760.9 131.6L760 130.1L759.1 128.5L758.3 126.9L757.9 125.4L757.5 123.8L757 122.2L756.6 120.6L756.1 119L755.4 117.7L754.1 116.2L752.7 114.9L751.2 114.2L750.1 113.9ZM729.8 110.1L730 111L730.1 112.3L730.7 113.8L731.3 115.4L731.8 117.1L732.4 118.8L733 120.5L733.4 122.2L733.9 123.7L734.3 125.3L734.7 126.9L735.1 128.6L735.5 130.2L735.8 131.8L736.2 133.5L736.6 135.1L736.9 136.7L737.1 138.4L737.4 140.1L737.6 141.7L737.9 143.4L738.1 145L738.3 146.6L738.6 148.1L739.1 150L739.7 152L740.3 153.9L740.9 155.6L741.4 157L741.8 158.1L742.2 157.9L741.9 156.9L741.5 155.4L740.9 153.7L740.4 151.8L739.8 149.9L739.4 147.9L739.1 146.4L738.9 144.9L738.6 143.3L738.4 141.6L738.2 139.9L738 138.3L737.7 136.6L737.4 134.9L737.1 133.3L736.9 131.6L736.4 130L736.2 128.3L735.8 126.7L735.3 125.1L735 123.4L734.6 121.8L734 120.2L733.6 118.5L733 116.7L732.3 115L731.8 113.4L731.3 111.9L730.7 110.8L730.2 109.9ZM698.1 52.8L696.3 51.7L693.9 51.4L692.6 52.6L692.3 53.9L692.7 54.1L693.4 53.2L694.1 52.6L695.9 53L697.9 53.2ZM698 59.8L696.5 59.6L694.7 60L693.7 61.2L693.3 62.4L693.7 62.6L694.5 61.8L695.3 61L696.7 60.7L698 60.2ZM709 53.2L710.8 53.9L712.6 54.1L713.6 55.4L714.5 57.3L715.4 58.7L716.3 59.6L716.7 59.4L716.3 58.2L715.5 56.7L714.7 54.8L713.4 52.9L711 52.2L709 52.8ZM708 57.2L709.7 58.1L711.6 58.9L712.3 60.5L712.8 62L713.2 62L713.2 60.2L712.4 58.1L710.2 56.9L708 56.8ZM690 77.8L688 77.6L685.7 78.5L684.2 80L683.3 81.4L683.7 81.6L684.8 80.6L686.3 79.5L688.3 79L690 78.2ZM721 80.2L722.9 80.5L724.9 80.4L725.9 81.3L726.8 82.1L727.2 81.9L726.6 80.7L725.1 79.6L722.9 79.3L721 79.8ZM726 88.1L727.9 88.5L729.8 88.5L730.9 89.5L731.8 90.6L732.2 90.4L731.6 89L730.2 87.5L727.9 87.2L726 87.9Z" fill="#b8b8b8" stroke="#4a4a4a" stroke-width="0.65" stroke-linejoin="round"/><path d="M699 87.7L697.9 88.3L696.6 89L695.2 89.8L693.7 90.7L692.2 91.6L690.7 92.6L689.2 93.6L687.8 94.7L686.8 95.6L685.7 96.5L684.6 97.6L683.6 98.6L682.5 99.7L681.4 100.9L680.3 102L679.2 103.2L678.1 104.3L677.1 105.5L676 106.6M695.7 105.4L694.3 106.6L692.8 107.8L691.4 109.1L690 110.4L688.8 111.6L687.8 112.7L686.5 114.3L685.6 115.8L685 117.2L684.4 118.7L683.8 120.7L683.4 122L683 123.3L682.7 124.7L682.3 126.2L682 127.7L681.7 129.4L681.4 131.1L681.1 132.8L680.8 134.7L680.6 136L680.4 137.4L680.3 138.9L680.1 140.4M693.9 71.9L693 73.5L692.1 75.2L691.4 77L690.8 78.7L690.5 80L690.2 81.5L690.1 82.9L689.9 84.5L689.8 86L689.7 87.6L689.7 89.2L689.6 90.8L689.6 92.4L689.6 93.9L689.5 95.3L689.4 96.7L689.3 98.4L689.1 100L689 101.5L688.8 102.9L688.7 104.4L688.6 105.8L688.4 107.3L688.3 108.9L688.2 110.7L688.1 112.1L688 113.6L687.9 115.1L687.9 116.6L687.8 118.2L687.7 119.8L687.6 121.5L687.5 123.1L687.4 124.8L687.4 126.4L687.3 128.1M707.6 64.4L708.9 65.6L710.2 66.9L711.5 68.2L712.7 69.5L713.8 70.7L714.9 72L716 73.3L717 74.6L718 75.9L719 77.2L719.9 78.5L720.8 79.7L721.7 81L722.4 82.3L723.1 83.5L723.8 84.8L724.7 86.1L725.8 87.7L726.6 88.8M708.2 79.7L709 81.3L709.8 82.7L710.8 83.9L711.9 85L713.1 86.1L714.3 87.1L715.5 88.2L716.7 89.4L717.8 90.7L718.7 92L719.5 93.3L720.2 94.7L721 96.2L721.7 97.7L722.4 99.3L723.1 101L723.8 102.7L724.3 104L724.8 105.4L725.3 106.8L725.8 108.2L726.3 109.7L726.7 111.2L727.2 112.7L727.6 114.2L728 115.7L728.4 117.2L728.8 118.7L729.2 120.3L729.5 121.9L729.8 123.6L730.1 125.2L730.4 126.8L730.6 128.4M708.6 95.9L709.2 97.6L709.9 99.4L710.5 101.2L711.2 103L711.8 104.7L712.3 106.1L712.8 107.5L713.4 109L714 110.5L714.5 112L715.1 113.4L715.6 114.9L716.2 116.4L716.8 117.9L717.3 119.3L717.8 120.7L718.4 122.3L719 123.9L719.6 125.5L720.2 127.1L720.8 128.6L721.3 130.1L721.8 131.6L722.3 133.2L722.8 134.7L723.2 136.2L723.6 137.8L723.9 139.3L724.2 140.8M708.9 115.1L710.2 116.5L711.5 118L712.8 119.4L713.8 120.7L714.8 122.1L715.8 123.4L716.7 124.8L717.5 126.1L718.3 127.6L719.1 129.1L719.8 130.7L720.3 132.1L720.8 133.5L721.3 135L721.8 136.6L722.2 138.2L722.6 139.8L723 141.4L723.4 143.1L723.8 144.7L724.1 146.2L724.5 147.6L724.8 149.1L725.2 150.6L725.5 152.1L725.8 153.7" fill="none" stroke="#e2e2e2" stroke-width="0.9" stroke-linecap="round"/><path d="M703.7 161.3L704.3 162.3L705 163.5L706 164.8L707.6 165.6L709 166.8L710.4 167.9L711.6 169.3L712.7 170.6L713.8 171.4L714.6 172.6L715.2 174L716 175.4L717 176.6L717.8 178.1L718.5 179.5L719.4 180.9L720.2 182.3L721 183.6L722 185L723 186.4L723.9 187.8L724.9 189.1L725.8 190.5L726.6 191.8L727.5 193.1L728.5 194.3L729.2 195.5L730.2 197.1L731.2 198.6L732.1 200.2L733 201.6L733.7 203L734.4 204L735.1 204.7L735.9 204.3L735.7 203.3L735.1 202.1L734.3 200.9L733.5 199.3L732.6 197.8L731.8 196.1L730.8 194.5L730 193.3L729.3 192L728.4 190.6L727.4 189.4L726.5 188L725.6 186.6L724.7 185.2L723.8 183.8L723 182.4L722.3 181.1L721.5 179.7L720.8 178.3L720 176.9L719.2 175.4L718.7 173.8L717.9 172.4L716.9 171.2L716 169.9L715.3 168.4L714 167L712.4 165.7L710.9 164.4L709.4 163.2L708.2 161.9L706.7 161.3L705.3 160.9L704.3 160.7ZM720.8 140.2L721.2 141L721.6 142L722.4 143L723.1 144.2L724.3 145.3L725.2 146.6L726.3 147.9L727.6 149.2L728.6 150.6L729.8 151.9L730.9 153.3L731.9 154.7L733 155.9L734 157L735 158.3L735.9 159.6L736.9 160.7L737.8 162L738.8 163.2L739.6 164.4L740.6 165.6L741.3 166.9L742.2 168.1L743.1 169.2L744 170.5L744.7 171.8L745.4 173.1L746.2 174.5L747 175.8L747.7 177.3L748.5 178.8L749.2 180.3L749.9 181.8L750.6 183.3L751.2 184.8L751.8 186.2L752.4 187.5L752.9 188.8L753.4 190.1L753.9 191.2L754.6 193.3L755.2 195.3L755.5 197L755.7 198.4L756 199.6L756.3 200.6L756.9 200.4L756.9 199.5L756.7 198.3L756.4 196.8L756 195.1L755.5 193.1L754.7 190.8L754.3 189.7L753.8 188.5L753.3 187.2L752.8 185.8L752.2 184.3L751.5 182.9L750.9 181.3L750.2 179.8L749.4 178.3L748.8 176.8L748 175.3L747.3 173.9L746.6 172.5L745.8 171.2L744.9 169.9L744.1 168.6L743.4 167.3L742.5 166L741.6 164.9L740.7 163.6L739.8 162.4L738.9 161.1L738 159.9L737.1 158.6L736.1 157.4L735.2 156.2L734.3 154.9L733.4 153.5L732.2 152.2L731.1 150.9L730.1 149.4L728.8 148.1L727.8 146.7L726.8 145.3L725.6 144.2L724.8 142.9L723.7 141.9L722.9 141L722 140.3L721.2 139.8Z" fill="#6e6e6e" stroke="#3c3c3c" stroke-width="0.6" stroke-linejoin="round"/></g>
<linearGradient id="tgD" x1="280" y1="0" x2="296" y2="0" gradientUnits="userSpaceOnUse"><stop offset="0" stop-color="#545454"/><stop offset="0.5" stop-color="#707070"/><stop offset="1" stop-color="#525252"/></linearGradient><g id="rootD"><path d="M268.6 390.3L267.6 391M268.7 390.3L269.7 391.1M268.4 390.5L267.3 390.7M268.6 390.5L270.1 391.3M268.6 390.5L267.2 390.5M268.7 390.4L269.4 390.8M268.4 391.9L267.5 391.9M267.2 396.5L267.9 397.3M266.5 399.6L265.5 400M264.5 405.6L265.4 406.2M263.4 408.3L262.5 408.5M260.8 414.4L261.7 415M260.1 419.6L258.5 420.2M259.7 423L261 423.5M259.3 428.1L258.2 428.2M259 431.1L260.2 431.8M258.6 438.6L257.6 438.7M258.3 441.6L259.2 441.9M257.5 446.1L256.5 446.2M256.1 452.6L257.7 453.4M255 455.8L253.8 456.2M272.3 395.1L271.6 394.1M272.3 394.8L272.5 396M272.3 394.9L271.5 394.6M272.2 394.8L272.1 396.5M272.1 394.9L271.2 394.5M272.2 394.8L273 396.7M269.6 396.2L268.5 395.6M263.8 398.9L263.8 400.8M258 402.3L257.1 401.7M253.6 405.5L253.8 406.7M251.2 407.4L249.7 406.8M248.7 409.6L249.1 410.8M246.3 411.7L245.5 411.5M241.9 416.9L242.7 417.9M237.8 422L236.4 421.4M249.7 422.8L248.8 423.4M249.6 423.1L250.8 423.9M249.7 423.1L248.2 423.2M249 426.3L250.3 426.8M247.1 432.4L245.6 432.9M245 436.6L246.4 437.7M241.1 441.9L240.2 441.2M236.9 446.1L237.4 447.8M236 447.8L234.3 447.8M267.7 428.2L266.8 428M267.7 428.2L268.7 429.7M267.7 428.3L266.3 428.7M267.8 428.2L268.6 429M267.6 428.2L266 428.1M267.7 428.3L269 429.8M267.8 428.1L266.4 427.7M267.2 429.9L268.7 430.9M266.1 434.4L265.2 434.7M265.8 437.8L267.1 438.5M265.6 440.7L264.8 440.9M265.3 445.6L266.2 445.9M264.9 449.2L263.3 449.2M263.2 453.9L264.7 454.6M262.1 457L261.3 456.8M260 461.6L260.9 462.5M259.1 465.9L257.5 466.2M257.8 470.4L258.8 472.1M253.1 474.2L252 473.6M251.8 475.2L252.7 476.8M247.9 478L247.2 477.4M244.5 480.8L245.2 482.6M242.3 483.1L241.5 482.7M239.6 487L240.7 488.7M238.4 490.2L237.1 490.3M237.1 493.8L237.8 494.5M277.7 420.7L276.3 420.6M276.6 422.1L277 423.3M274.2 424.9L273.4 424.8M281.1 441.8L280.1 442M281.2 441.7L282.1 443.1M280.7 443.3L279 443.4M279.6 446.4L280.9 447.7M278.9 449.4L277.5 450.1M278.1 454.1L279.1 454.4M277.9 458.7L276.8 459.2M277.8 463.7L279 464.3M301.7 405.7L300.9 406.1M301.8 405.5L303 405.7M301.6 405.6L300.4 406.5M301.7 405.6L302.5 405.7M301.7 405.5L300.4 406.5M301.7 405.5L302.7 405.6M301.8 405.7L300.4 407.3M301.8 405.6L302.9 405.6M302.2 408.5L301 408.9M302.9 412.6L304.1 412.7M302.8 415.9L301.7 416.2M302.3 418.7L303.8 419.3M301.5 423.7L300 424.4M300.6 427.9L302.2 428.7M300 435L298.5 435.3M299.8 436.7L301 436.9M300.9 441.1L299.2 442M302.2 446.1L303.4 446.5M302.6 450.3L301.6 451.1M302.7 456.8L303.9 457.4M302.7 462.9L301 463.2M303 468.1L304.3 468.5M302.6 472.4L301.5 473.1M302.9 477.2L303.9 477.7M303.4 482.6L302.4 483.6M307.1 404.6L305.7 406.2M307 404.7L308.3 404M307.1 404.7L306.4 405.8M307 404.5L307.8 403.8M306.9 404.5L306.3 405.5M307.2 404.6L308.5 404.1M309.7 406.9L309.2 408.6M314 411.4L315.6 411.2M317 414.5L316.4 416.2M319.9 418.6L321.1 418.2M323.2 421.9L322.3 423.9M329 424.9L329.9 424.2M331.9 426.9L331.7 428.7M335.5 430.7L336.4 430.5M337.5 433.7L336.3 435.3M338.4 437.1L340.1 437.7M337.9 441.1L337 441.4M322.9 432.3L321.7 433.4M322.8 432.5L324.4 432.7M322.7 432.7L321.2 433.9M323 434.2L323.9 434.2M324.6 440.5L324 441.2M325.6 443.8L327.1 444.1M327.2 446.7L326.4 447.5M329.7 453L331 452.8M330.6 454.8L329.4 455.4M308.7 438.6L307.8 439.4M308.9 438.3L309.7 438.3M308.9 438.4L307.3 438.7M308.8 438.6L309.9 438.6M308.7 438.6L307.3 439.5M308.6 438.6L309.6 438.9M308.7 438.4L307.1 438.8M308.9 438.6L310.4 439.5M308.9 440.2L307.6 440.5M309.5 444.9L310.5 445M310.5 449.3L309.3 450.5M311.4 454L312.2 454.2M312.4 458.5L311.6 459M312.9 461.6L314.5 462.5M313 466L311.8 466.1M312.8 472L313.7 472.7M312.2 478.1L311.4 478.4M311.1 483.9L312.4 484.8M310.3 486.9L308.6 486.7M309.4 491.5L310.8 492.1M308.3 496.2L307.2 496.5M307.2 502.2L308.1 503M306.6 505L305.2 505.3M304.8 511.8L306 512.7M303.6 516.1L302.5 516.5M316.4 461.3L315.5 462.2M316.1 461.3L317 461.7M316 461.2L314.6 462.2M316.7 462.9L318.2 463M317.9 467.4L316.7 468.2M318.6 470.5L319.8 470.5M319.6 475.1L318.5 475.4M319.9 479.5L321 479.9M319.4 486.5L318.3 486.8M318.8 489.3L320.3 490M275.2 486.6L274 486.8M275 486.8L275.9 487.7M275.3 486.9L273.8 486.6M272.8 490.6L273.7 492M271.1 493.3L269.9 492.8M269.5 496.2L270.4 497.7M267.4 502.6L266.3 502.4M266.3 508.2L268.1 508.7M265.5 511L263.8 511.1" stroke="#555" stroke-width="0.7" fill="none"/><path d="M279.8 356.9L279.8 357.8L279.9 358.8L279.9 360.1L280 361.4L280.1 362.9L280.1 364.5L280.2 366.2L280.3 368L280.4 369.8L280.5 371.6L280.6 373.4L280.6 375.2L280.7 376.9L280.8 378.6L280.9 380.2L280.9 381.7L281 383.3L281.1 384.8L281.1 386.4L281.2 388L281.2 389.6L281.3 391.2L281.3 392.7L281.4 394.3L281.5 395.8L281.5 397.3L281.6 398.7L281.7 400.2L281.7 401.5L281.8 402.8L282 404.7L282.1 406.4L282.2 408L282.4 409.5L282.5 411L282.7 412.4L282.9 413.8L283 415.3L283.2 416.7L283.4 418.2L283.6 419.7L283.8 421.2L284 422.8L284.2 424.4L284.5 425.9L284.7 427.5L284.9 429L285.2 430.5L285.4 431.9L285.7 433.4L286.1 435.2L286.7 436.9L287.2 438.5L287.7 440L288.1 441.4L288.5 442.8L288.9 444L289.1 445.1L289.1 446.5L289.1 447.8L288.9 449.1L288.7 450.4L288.5 451.8L288.2 453.2L287.9 454.6L287.6 455.9L287.2 457.1L286.7 458.5L286.1 460.1L285.6 461.7L285.1 463.6L284.8 465.5L284.7 467.2L284.7 468.8L284.7 470.4L284.8 472.1L285 473.7L285.1 475.3L285.3 476.9L285.4 478.4L285.6 479.8L285.9 481.6L286.2 483.2L286.6 484.7L286.9 486.2L287.3 487.5L287.5 488.8L287.7 490.2L287.8 491.5L287.9 492.9L287.9 494.4L287.9 495.9L287.9 497.4L287.9 498.9L287.8 500.4L287.8 501.8L287.7 503.3L287.6 504.8L287.5 506.2L287.4 507.7L287.2 509.2L287.1 510.8L287 512.4L287 514L286.9 515.8L286.9 517.7L286.9 519.6L286.9 521.4L286.9 523.1L286.9 524.4L286.9 525.5L287.7 525.5L287.9 524.5L288.1 523.2L288.4 521.6L288.7 519.8L289 517.9L289.4 516.1L289.7 514.3L290 512.8L290.3 511.2L290.6 509.7L291 508.3L291.3 506.8L291.7 505.4L292 503.8L292.2 502.2L292.4 500.7L292.6 499.2L292.7 497.7L292.9 496.1L293 494.5L293.1 492.9L293.1 491.4L293.1 489.8L293 488.1L292.7 486.5L292.5 485L292.2 483.5L291.9 482.1L291.7 480.7L291.6 479.2L291.5 477.8L291.4 476.4L291.3 474.9L291.3 473.4L291.3 471.8L291.3 470.4L291.3 468.9L291.4 467.6L291.6 466.5L291.9 465.1L292.3 463.8L292.8 462.5L293.4 461.2L294 459.7L294.6 458.1L295.1 456.4L295.5 454.9L295.9 453.3L296.2 451.8L296.5 450.2L296.7 448.5L296.9 446.7L296.9 444.9L296.9 443.1L296.9 441.4L296.7 439.8L296.5 438.1L296.3 436.5L296.2 434.9L296 433.4L295.9 431.8L295.8 430.5L295.6 429.1L295.5 427.6L295.4 426.1L295.2 424.6L295.1 423.1L295 421.6L294.8 420.1L294.7 418.5L294.6 417L294.5 415.6L294.4 414.2L294.3 412.8L294.2 411.4L294.1 410L294.1 408.6L294 407.2L293.9 405.6L293.8 404L293.8 402.2L293.7 400.9L293.7 399.6L293.6 398.2L293.6 396.8L293.5 395.3L293.5 393.8L293.4 392.3L293.4 390.8L293.3 389.2L293.3 387.6L293.2 386.1L293.2 384.5L293.2 382.9L293.1 381.4L293.1 379.8L293.1 378.3L293.1 376.6L293.1 374.9L293.2 373.1L293.2 371.3L293.2 369.6L293.2 367.8L293.3 366L293.3 364.3L293.3 362.7L293.3 361.2L293.4 359.9L293.4 358.6L293.4 357.6L293.4 356.7Z" fill="url(#tgD)" stroke="#3a3a3a" stroke-width="0.7"/><path d="M286.4 359H292.6M283.1 361.8H289.4M286.4 364.1H292.5M282.7 367.1H284.9M283.6 368.9H287.9M284.1 371.7H291.1M285.5 374.8H291.7M284.8 377.4H288.1M284.8 379.8H291.9M283.7 382.5H290.5M283.7 384.6H289.1M283 387.6H289.7M286.3 390.2H289.5M283.5 392.9H289.7M284.4 395.1H288.4M283.5 397.8H289.1M283.1 400.5H287.1M287.8 403.1H291.8M287.9 405.8H293.2M285.2 408H288.4M285.8 410.5H291M286.1 413.7H288.9M285.7 416.5H290.9M286.3 418.3H290.1M285.7 421.8H290.6M285.8 424.5H292.2M287.2 426.8H291.6M287.4 429.5H291M288.4 431.9H292.3M287.4 434.2H291.3M288.3 437.2H292.2M290.3 439.8H294M290.5 441.9H295.5M289.9 445H293.4M290.8 447.2H293.8M290 450.4H294M289.8 452.6H293.2M289 455.2H292.8M290.8 458.3H293.7M287.9 460.8H290.2M286.7 462.6H290.2M287.6 465.1H289.7M287.9 468.1H290.8" stroke="#8c8c8c" stroke-width="0.6" opacity="0.6" fill="none"/><path d="M284.4 366.9L283.4 367.4L282.3 368.2L280.9 369.2L279.2 370L277.8 371.3L276.6 372.6L275.7 373.7L274.5 374.6L273.3 375.6L272.2 376.7L270.9 377.9L269.9 379.2L268.7 380.5L268.2 382.2L267.6 383.8L267.3 385.4L267.4 387L267 388.6L267 390.1L266.6 391.6L266.3 393.1L265.9 394.5L265.8 396.1L265.3 397.6L265.1 399.2L264.5 400.6L264.2 402.1L263.8 403.5L263.1 404.9L262.7 406.4L262.1 407.9L261.1 409.2L260.5 410.8L259.9 412.4L259.3 414.2L258.9 415.9L258.8 417.6L258.4 419.3L258.5 421.1L258.2 422.8L258.1 424.6L258.1 426.3L258 427.9L257.9 429.5L257.8 431.1L257.7 432.7L257.5 434.2L257.7 435.7L257.3 437.2L257.3 438.5L257.3 439.9L257.1 441.5L257 443.1L256.6 444.5L256.4 445.9L256.2 447.4L255.9 448.7L255.5 450.5L255 452.3L254.3 454.1L253.8 455.6L253.9 456.8L255.1 457.2L255.9 456.3L256.5 454.8L256.9 453L257.5 451.1L258.1 449.3L258.4 447.8L258.8 446.4L259.1 445L259.2 443.4L259.5 441.8L259.7 440.1L259.9 438.8L260.1 437.3L259.9 435.8L260.3 434.3L260.2 432.8L260.3 431.2L260.5 429.7L260.6 428.1L260.7 426.5L261 424.8L261.1 423.1L261.2 421.3L261.6 419.7L261.6 418L262 416.4L262.3 415L262.7 413.5L263.3 412L264.1 410.7L264.5 409.1L265.4 407.7L266.3 406.2L266.8 404.5L267.3 403L267.8 401.5L268.1 399.9L268.6 398.4L268.8 396.8L269.4 395.3L269.6 393.8L270 392.4L270.2 390.7L270.7 389L270.6 387.4L271.1 386L271.4 384.7L271.6 383.5L272.3 382.5L272.7 381.3L273.6 380.4L274.6 379.3L275.8 378.4L277 377.4L278.1 376.3L279.4 375.4L280.7 374.3L282 372.9L282.8 371.2L283.9 369.8L284.7 368.7L285.2 367.7ZM285.1 378.3L284.3 379.2L283.2 380.3L282.4 381.9L281.6 383.6L281.1 385.3L280.1 386.7L279.5 387.9L278.6 388.8L277.7 389.6L276.6 390.4L275.6 391.3L274.2 392L272.7 392.7L271.6 393.6L270.2 393.9L268.8 394.6L267.4 395.3L265.9 396L264.5 396.8L262.9 397.4L261.5 398.1L260.1 399.2L258.6 400.2L257 401.1L255.6 402.2L254.2 403.1L252.9 404.3L251.6 405.1L250.2 406.3L249 407.6L247.7 408.6L246.4 409.8L245.3 411L244.1 412.1L243 413.5L241.9 414.8L241 416.3L240 417.6L239 418.8L238.2 419.9L237 421.4L235.6 422.5L234.6 423.6L234.1 424.6L234.9 425.4L235.9 425L237.1 424.1L238.3 422.7L239.8 421.3L240.7 420.2L241.7 418.9L242.7 417.6L243.8 416.3L244.8 415L245.9 413.9L247 412.7L248.2 411.6L249.4 410.6L250.6 409.5L252 408.5L253.4 407.5L254.6 406.4L256 405.5L257.3 404.5L258.7 403.6L260.1 402.4L261.5 401.5L263.1 400.9L264.4 400.2L265.7 399.4L267.2 398.9L268.7 398.3L270.2 397.8L271.7 397.3L272.9 396.3L274.3 395.9L275.8 394.9L277.2 394.2L278.7 393.6L280 392.7L281.4 391.6L282.5 390.1L283.6 388.7L284.2 386.8L285.2 385L285.8 383.2L286.2 381.4L286.1 379.8L286.1 378.7ZM251.6 406.9L250.7 407.7L249.8 408.8L249.6 410.4L249 412.3L248.6 414.3L248.7 415.9L248.6 417.5L248.5 419.2L248.3 421L248.3 422.8L247.9 424.5L247.8 426.1L247.3 427.6L247 429.1L246.6 430.5L246.1 432L245.4 433.4L244.7 434.7L243.9 435.9L243.2 437.2L242.6 438.4L241.7 439.8L240.5 441L239.3 442.2L238.2 443.3L237.1 444.3L236.2 445.4L235 447.2L234.2 448.6L234.1 449.8L234.9 450.2L235.8 449.5L236.6 448.2L237.8 446.6L238.6 445.8L239.6 444.8L240.8 443.7L242.1 442.5L243.2 441L244.4 439.6L245.3 438.5L246.1 437.2L246.8 435.9L247.6 434.4L248.2 433L249 431.5L249.7 430L250.3 428.4L250.5 426.7L251 424.9L250.9 423L251.3 421.2L251.2 419.4L251.4 417.7L251.6 416.2L252 414.9L252.3 412.9L252.5 411.1L253.1 409.6L252.8 408.2L252.4 407.1ZM281.4 394.7L280.4 395.5L279.1 396.8L277.6 398.4L276.4 400.4L275.7 401.9L275.7 403.6L275.4 405.2L275.1 406.8L275.1 408.2L274.9 409.6L274.3 411L274 412.5L273.3 413.8L272.8 415.3L271.9 416.8L271.3 418.2L270.2 419.5L269.6 421.2L268.4 422.6L267.5 424.3L266.9 426L266.1 427.6L265.7 429.3L265.3 431L265.1 432.7L264.7 434.2L264.3 435.8L264.2 437.6L264.3 439.2L264.2 440.8L264 442.3L264.2 443.8L263.8 445.4L263.6 447.1L263.3 448.8L263.1 450.4L262.6 452.1L261.9 453.4L261.4 454.9L260.8 456.4L260 457.9L259.5 459.5L258.9 461.1L258.2 462.8L258.1 464.4L258.1 465.9L257.9 467.3L257.6 468.6L256.8 469.8L256.1 470.6L255 471.5L253.9 472.5L252.5 473.3L251.1 474.2L249.8 475.2L248.6 476.3L247.4 477.2L246 478.2L245 479.3L243.7 480.1L242.7 481.3L241.7 482.4L240.5 483.5L239.7 485L238.9 486.4L238.1 488.1L237.6 489.9L236.9 491.7L236.4 493.4L235.8 494.9L235.4 496.2L235.5 497.3L236.5 497.7L237.3 496.8L237.7 495.5L238.1 494L238.7 492.3L239.2 490.5L240 488.8L240.7 487.3L241.3 486L242.3 484.9L243.1 483.7L244 482.6L245.2 481.9L246.2 480.8L247.5 479.9L248.6 478.8L249.8 477.9L251.1 477.1L252.6 476.3L253.9 475.4L255.3 474.4L256.6 473.5L257.8 472.4L258.8 471.2L259.6 469.5L260.2 467.9L260.5 466.2L260.8 464.7L261 463.3L261.1 461.9L261.7 460.4L262.4 459L263.1 457.5L263.9 456L264.7 454.5L265 452.9L265.5 451.1L266.1 449.3L266.4 447.6L266.7 445.9L266.8 444.2L267.3 442.5L267.2 440.9L267.2 439.3L267.4 437.8L267.7 436.2L267.8 434.8L268 433.2L268.5 431.7L268.8 430.2L269.3 428.7L269.7 427.2L270.5 425.9L271.4 424.4L272.1 422.8L273.4 421.5L274.1 419.8L275.1 418.4L275.7 416.7L276.5 415.2L277 413.6L277.7 412.1L278.1 410.4L278.5 408.8L278.9 407.2L279 405.6L279 404.1L279.5 402.8L279.6 401.6L280.1 399.8L280.9 398L281.7 396.5L282.2 395.3ZM282.2 415.7L280.4 415.5L279.4 416.8L278.1 418.2L276.6 419.6L275.4 421.1L274.2 422.5L273.2 424.3L272 425.9L271.1 427.2L270.8 428.4L271.8 429.2L272.9 428.6L273.9 427.2L275 425.7L276.5 424.3L277.6 422.9L278.9 421.7L280.2 420.3L281.6 419.1L282.9 418.1L282.8 416.3ZM288.3 431.2L287.1 431.5L285.7 432.2L284.7 433.6L283.4 435.1L282.1 436.5L281.2 438.2L280.3 439.6L279.7 441.2L279.3 442.8L278.6 444.4L278.5 446.1L277.9 447.7L277.5 449.2L277.4 450.8L276.9 452.4L277 454L276.8 455.6L276.8 457.2L276.7 458.6L276.7 460L276.8 461.9L277 463.7L277.1 465.3L277.3 466.6L277.8 467.6L278.8 467.4L279.1 466.4L279 465.1L278.7 463.5L278.7 461.8L278.7 460L278.8 458.7L278.9 457.3L279.1 455.8L279.1 454.3L279.6 452.8L279.6 451.2L280.1 449.8L280.4 448.3L280.7 446.7L281.6 445.3L282 443.8L282.6 442.4L283.3 441L283.8 439.8L284.8 438.4L285.8 436.9L286.9 435.6L288.1 434.5L288.8 433.1L288.9 431.8ZM289.6 372.8L290.1 373.9L290.9 375.1L291.8 376.7L292.8 378.3L293.4 380L294.5 381.1L295.3 382.6L296.2 383.6L296.8 384.7L297.2 386.4L297.2 387.5L297.4 388.8L297.5 390.3L297.6 391.9L297.7 393.5L298 395.1L297.8 396.8L298 398.3L298.4 400L298.9 401.6L299.2 403.2L299.7 404.6L300.2 405.9L300.2 407.3L300.6 408.7L300.8 410.1L301 411.5L301.2 412.9L301.4 414.3L301.1 415.9L301 417.2L300.9 418.6L300.7 420.1L300.4 421.6L300.2 423.2L299.6 424.8L299.3 426.3L299.2 427.8L299 429.7L298.7 431.5L298.8 433.2L298.6 434.9L298.7 436.6L298.7 438.2L299.1 440.1L299.7 441.7L300.2 443.1L300.8 445.2L301 446.3L301.2 447.6L301.1 449L301.3 450.5L301.4 452.1L301.6 453.7L301.6 455.3L301.7 456.9L301.6 458.5L301.8 460L301.8 461.5L301.8 463.1L301.8 464.7L301.9 466.4L301.8 468L301.8 469.5L301.7 471L301.9 472.5L301.9 473.8L302 475L302 477.2L302.2 479L302.5 480.5L302.5 481.7L303 482.6L304 482.4L304.3 481.5L304 480.3L303.9 478.8L303.8 477L303.6 475L303.7 473.8L303.6 472.5L303.9 471.1L303.8 469.6L303.8 468L303.8 466.4L303.9 464.7L303.9 463.1L303.9 461.5L303.8 460L304 458.4L303.7 456.8L303.7 455.2L303.6 453.6L303.7 451.9L303.6 450.4L303.6 448.8L303.3 447.4L303.2 446.1L303.2 444.8L302.9 442.4L302.1 440.7L301.5 439.4L301.3 437.8L301.2 436.5L301.3 435L301.2 433.4L301.6 431.7L301.7 430L302 428.2L302.3 426.8L302.6 425.4L302.7 423.8L303.2 422.2L303.6 420.7L304 419.1L304.3 417.6L304.5 416.1L304.4 414.3L304.4 412.7L304.4 411.1L304.1 409.6L303.9 408.2L303.8 406.7L303.2 405.2L302.9 403.7L302.6 402.2L302 400.8L301.8 399.3L301.6 397.7L301.5 396.4L301.1 395L301.3 393.4L301.3 391.8L301.3 390.1L301.2 388.5L301.2 387L300.8 385.6L300.2 383.5L299.5 381.8L298.8 380.3L297.5 378.9L296.8 377.5L295.2 376.4L293.9 375L292.4 373.9L291.3 372.8L290.4 372.2ZM287.6 393.2L288.2 394.2L289.2 395.4L290.6 396.4L292.1 397.4L293.5 398.4L295.2 398.8L296.7 399.6L298.1 400.3L299.6 400.9L301 401.8L302.2 402.6L303.3 403.7L304.7 404.7L305.9 405.9L307.2 407L308.4 408.2L309.6 409.1L310.8 410.1L311.8 411.2L312.9 412.3L314.1 413.2L314.9 414.5L315.9 415.4L317 416.6L317.9 418L319 419.2L320 420.5L320.9 421.9L322.3 422.9L323.8 424.1L325.5 424.8L327.1 425.5L328.6 426.1L330 426.7L331.3 427.7L332.6 428.8L333.8 430.1L334.9 431.3L335.7 432.3L336.6 434L337.1 435.6L337.4 437L337.3 439.3L337.5 440.9L338.5 441.1L339.2 439.4L339.2 437L339 435.2L338.6 433.2L337.5 431.3L336.5 430L335.4 428.6L334 427.3L332.6 426.1L331.2 424.9L329.7 423.8L328.1 423.1L326.5 422.6L325.1 421.8L323.7 421.1L322.9 420L321.9 419L321 417.8L320.2 416.3L319.2 414.9L318.1 413.6L317.2 412.4L315.9 411.4L315 410.2L313.9 409.1L312.8 408.1L311.7 406.9L310.8 405.8L309.5 404.6L308.3 403.3L307 402.1L305.7 400.9L304.3 399.9L303 398.8L301.3 397.8L299.8 396.9L298.2 396.2L296.7 395.6L295.5 394.6L293.9 394L292.3 393.2L290.7 392.6L289.2 392.4L288 392.4ZM321.2 420.5L320.6 421.5L320.1 422.8L320.4 424.4L320.4 426.1L320.6 427.9L321 429.7L321 431.2L321.5 432.7L321.7 434.4L322 436L322.5 437.6L323 439.3L323.5 440.8L324.1 442.4L324.7 444.1L325.5 445.7L326.2 447.2L326.9 448.7L327.6 450.1L328.2 451.3L328.9 453.4L329.7 455.2L330.4 456.7L331.1 457.7L331.9 457.3L331.8 456.2L331.3 454.6L330.7 452.7L329.8 450.7L329.3 449.3L328.7 447.9L328.1 446.4L327.4 444.8L326.8 443.2L326.1 441.7L325.7 440.2L325.3 438.6L325 437L324.7 435.4L324.5 433.8L324 432.3L324 430.7L323.6 429.3L323.5 427.6L323.5 425.9L323.2 424.2L323.4 422.7L322.7 421.4L322 420.5ZM289.7 408.2L290.3 409.1L291.3 410.1L292.3 411.4L293.5 412.8L294.8 414.2L295.8 415.3L296.8 416.5L298 417.7L299 419.1L300.1 420.5L301.1 421.8L301.9 423.1L302.8 424.4L303.5 425.7L304.4 426.8L304.7 428.3L305.2 429.8L305.8 431.4L306 432.7L306.4 434L306.7 435.5L307 437L307.1 438.6L307.2 440.3L307.4 441.9L307.6 443.6L308.1 445.3L308.2 446.8L308.8 448.3L309.2 449.7L309.5 451.3L309.8 452.8L310.1 454.3L310.6 455.7L310.9 457.2L311 458.7L311.3 460.1L311.3 461.6L311.5 463.1L311.7 464.5L311.6 466L311.6 467.5L311.8 469L311.5 470.4L311.7 471.9L311.6 473.4L311.4 474.9L311.2 476.3L311 477.8L310.7 479.3L310.6 480.8L310.3 482.3L309.8 483.7L309.6 485.3L309.2 486.8L308.9 488.3L308.5 489.8L308.3 491.3L308 492.8L307.7 494.4L307.5 496L307.1 497.5L306.9 499L306.6 500.5L306.4 502L306 503.4L305.7 504.8L305.4 506.5L305 508.3L304.5 510L304.1 511.7L303.7 513.3L303.3 514.7L303.1 515.9L303.1 516.9L303.9 517.1L304.4 516.3L304.8 515.1L305.2 513.7L305.6 512.1L306.1 510.5L306.5 508.7L307 506.9L307.5 505.2L307.8 503.8L308 502.4L308.4 500.9L308.7 499.4L309.1 497.9L309.3 496.3L309.7 494.8L310 493.3L310.3 491.7L310.7 490.2L310.9 488.7L311.3 487.2L311.6 485.7L312 484.3L312.3 482.7L312.7 481.2L313.2 479.7L313.4 478.2L313.7 476.7L313.8 475.1L313.9 473.6L314 472.1L314.3 470.6L314.2 469L314.4 467.5L314.3 466L314.1 464.5L314.2 462.9L314.2 461.4L313.9 459.9L313.9 458.3L313.4 456.8L313.2 455.2L313.1 453.6L312.7 452.1L312.3 450.6L311.8 449.1L311.6 447.6L311.5 446.1L311.1 444.7L311 443.1L310.8 441.5L310.6 439.9L310.3 438.2L310 436.6L309.9 435L309.7 433.5L309.6 432L309.2 430.6L308.8 428.6L308.2 427L307.3 425.5L306.8 423.9L306 422.5L305.1 420.9L304.1 419.6L303 418.2L301.9 416.7L300.6 415.5L299.5 414.1L298.3 412.9L297.2 411.8L295.7 410.5L294.1 409.4L292.5 408.5L291.3 407.8L290.3 407.4ZM311.6 447.1L311.7 448.5L311.7 450.5L312.6 452.9L312.9 454.1L313.3 455.4L313.6 456.8L314.1 458.3L314.7 459.9L314.9 461.5L315.4 463.2L315.7 464.8L316.2 466.2L316.7 467.7L317.2 469.2L317.3 470.7L318 472.2L318.3 473.7L318.5 475.2L319 476.6L319 478.1L319.1 479.6L319 481.2L318.8 482.9L318.6 484.6L318.6 486.3L318.4 487.9L318.2 489.3L318 490.5L318.2 491.4L319 491.6L319.4 490.7L319.6 489.5L319.9 488.1L320.2 486.5L320.6 484.9L320.8 483.1L320.9 481.3L321 479.6L321 477.9L320.8 476.4L320.8 474.8L320.3 473.2L319.9 471.7L319.8 470.1L319.2 468.6L318.8 467.1L318.5 465.6L318.3 464.2L317.8 462.6L317.5 460.9L317 459.3L316.8 457.7L316.5 456.1L316 454.7L315.8 453.3L315.4 452.1L314.7 449.5L313.3 447.9L312.4 446.9ZM279.1 473.4L278.2 474.1L277.3 475.2L277.1 476.7L276.6 478.3L276.1 480L275.8 481.8L275.3 483.5L274.5 484.9L273.9 486.1L273.3 487.4L272.6 488.8L271.8 490.1L271.1 491.4L270.1 492.7L269.3 494.1L268.7 495.6L268.1 497.1L267.5 498.8L266.9 500.5L266.4 502.4L266.1 504.3L265.6 506.1L265.3 507.8L265.1 509.4L264.8 510.7L264.9 511.7L265.7 511.9L266.2 511L266.5 509.7L267 508.2L267.5 506.5L267.8 504.7L268.4 502.9L268.9 501.1L269.4 499.4L269.9 497.9L270.6 496.5L271.4 495.3L272.2 494L272.9 492.6L273.8 491.3L274.7 490.1L275.6 488.8L276.5 487.5L277.1 486.1L277.6 484.4L278.2 482.6L279 480.9L279.6 479.2L280 477.5L280.5 476.1L280.3 474.7L279.9 473.6Z" fill="#a2a2a2" stroke="#404040" stroke-width="1" stroke-linejoin="round"/><path d="M279 372.5L277.7 373.7L276.6 374.7L275.5 375.7L274.3 376.7L273.1 377.7L272 378.8L271 380L270.2 381.2L269.6 382.5L269.2 383.9L268.9 385.4L268.7 386.9L268.5 388.5L268.3 390.1L268 391.7L267.7 393.1L267.3 394.6L267 396.2L266.6 397.7L266.3 399.2L265.9 400.8L265.5 402.3L265 403.7L264.4 405.3L263.7 406.7L263 408.2L262.3 409.6L261.6 411.1L261 412.7L260.5 414.3L260.2 415.9M283.8 382.2L283.1 384L282.4 385.8L281.5 387.4L280.7 388.7L279.7 389.9L278.6 390.9L277.4 391.7L276.1 392.4L274.7 393.2L273.2 394L272 394.6L270.6 395.3L269.2 395.9L267.7 396.5L266.3 397.1L264.8 397.8L263.4 398.5L262 399.2L260.5 400.1L259 401L257.6 402L256.2 403L254.8 404M251.1 408.9L250.7 410.5L250.4 412.3L250 414.3L249.8 415.7L249.7 417.3L249.6 419L249.5 420.8L249.3 422.6L249.1 424.4L248.9 426.1L248.5 427.7L248 429.2L247.5 430.7L246.8 432.2L246.2 433.6M277.3 402L277.1 403.5L276.9 405.1L276.7 406.7L276.5 408.2L276.2 409.7L275.7 411.3L275.2 412.8L274.6 414.2L274 415.7L273.2 417.3L272.4 418.7L271.5 420.2L270.6 421.7L269.6 423.2L268.7 424.8L268 426.3L267.4 427.9L267 429.5L266.6 431.1L266.2 432.7L265.9 434.2L265.7 435.7L265.5 437.4L265.4 439L265.4 440.5L265.3 442.1L265.2 443.7L265 445.4L264.7 447L264.4 448.7L264 450.5L263.5 452.2L263 453.7L262.3 455.2L261.6 456.7L260.9 458.2L260.3 459.7M282.2 415.7L281.4 416.5L280.2 417.6L278.8 419L277.4 420.4L276.2 421.7M286.6 433L285.5 434.3L284.3 435.7L283.1 437.2L282.2 438.7L281.5 440L280.9 441.5L280.3 443L279.8 444.5L279.3 446.1L278.9 447.7L278.5 449.2L278.2 450.7M294.8 378.4L295.7 379.7L296.7 381.2L297.5 382.4L298.2 383.8L298.7 385.7L298.9 386.9L299 388.3L299.1 389.9L299.2 391.5L299.2 393.2L299.3 394.8L299.3 396.3L299.5 397.7L299.8 399.4L300.2 400.9L300.6 402.4L301 403.8L301.4 405.2L301.7 406.7L301.9 408.2L302.2 409.6L302.4 411L302.5 412.5L302.6 414L302.5 415.7L302.4 417.1L302.1 418.5L301.8 420.1L301.5 421.6L301.1 423.2L300.8 424.8L300.5 426.3L300.3 427.7L300.1 429.5L299.9 431.3L299.7 433L299.6 434.7L299.6 436.2M291.1 394.5L292.7 395.4L294.2 396.2L295.6 396.9L297.1 397.6L298.7 398.3L300.2 399.1L301.7 400L303 400.9L304.2 402L305.5 403.1L306.8 404.3L308 405.5L309.3 406.7L310.4 407.7L311.5 408.8L312.6 409.9L313.6 410.9L314.7 412L315.7 413.1L316.7 414.2L317.8 415.5L318.7 416.8L319.7 418.2M321.4 422.5L321.5 424L321.6 425.7L321.8 427.5L322 429.2L322.2 430.7L322.5 432.2L322.8 433.8L323.1 435.4L323.4 437L323.8 438.6L324.3 440.2L324.8 441.8M296.7 413.8L297.8 415L299 416.3L300.2 417.6L301.3 419L302.3 420.4L303.2 421.7L304.1 423.1L304.9 424.5L305.5 425.9L306.1 427.3L306.7 428.9L307.2 430.7L307.5 432L307.8 433.5L308 435L308.2 436.5L308.4 438.1L308.6 439.8L308.8 441.4L309 443.1L309.3 444.7L309.6 446.2L309.9 447.6L310.2 449.1L310.6 450.6L310.9 452.1L311.3 453.7L311.6 455.2L311.9 456.7L312.1 458.2L312.3 459.7L312.4 461.2L312.5 462.7L312.6 464.2L312.7 465.7L312.7 467.2L312.7 468.7L312.6 470.2M312.9 449.7L313.7 452.2L314 453.4L314.4 454.7L314.8 456.2L315.1 457.7L315.5 459.3L315.9 460.9L316.3 462.6L316.7 464.2L317.1 465.6L317.5 467.1L317.9 468.6L318.3 470.1L318.7 471.6L319 473.1M278.6 475.4L278.2 476.8L277.8 478.4L277.3 480.2L276.7 481.9L276.1 483.6L275.5 485.2L274.9 486.5L274.1 487.8L273.3 489.1L272.5 490.4L271.7 491.7L270.9 493L270.1 494.4" fill="none" stroke="#dedede" stroke-width="1.1" stroke-linecap="round"/><path d="M257.9 443.2L257.4 444.7L256.8 446L256.3 447.4L256 448.7L255.5 450.5L255 452.3L254.4 454.1L253.9 455.6L254 456.8L255 457.2L255.8 456.3L256.3 454.8L256.9 453L257.5 451.1L258 449.3L258.3 447.8L258.4 446.3L258.4 444.8L258.3 443.3ZM253.6 405.1L252.1 405.8L250.5 406.7L249 407.6L247.7 408.7L246.5 409.8L245.3 411L244.2 412.2L243 413.5L242 414.9L241 416.3L240 417.6L239.1 418.9L238.3 419.9L237 421.3L235.7 422.6L234.6 423.6L234.2 424.7L234.8 425.3L235.9 425L237 424L238.4 422.7L239.7 421.3L240.7 420.1L241.7 418.9L242.7 417.6L243.7 416.3L244.8 415L245.8 413.8L247 412.7L248.1 411.6L249.3 410.5L250.5 409.4L251.7 408.1L252.9 406.8L253.9 405.5ZM247.5 430.9L246.6 432.3L245.7 433.5L244.8 434.8L244 436L243.3 437.3L242.6 438.4L241.6 439.8L240.5 441L239.4 442.2L238.3 443.4L237.2 444.4L236.3 445.4L235.1 447.2L234.3 448.7L234.1 449.8L234.9 450.2L235.7 449.5L236.5 448.2L237.7 446.6L238.5 445.7L239.6 444.7L240.8 443.6L242 442.4L243.2 441.1L244.4 439.6L245.2 438.4L246 437.2L246.7 435.8L247.2 434.3L247.6 432.7L248 431.1ZM259.2 464.5L258.7 466L258.2 467.4L257.6 468.6L256.8 469.8L256.1 470.7L255.1 471.6L253.9 472.5L252.6 473.4L251.2 474.3L249.9 475.3L248.5 476.2L247.3 477.2L246.1 478.2L244.9 479.2L243.8 480.2L242.7 481.2L241.6 482.4L240.6 483.6L239.7 485L238.9 486.5L238.2 488.1L237.5 489.9L236.9 491.7L236.4 493.4L235.9 495L235.5 496.3L235.6 497.4L236.4 497.6L237.2 496.8L237.6 495.5L238.1 494L238.6 492.3L239.3 490.5L239.9 488.8L240.6 487.3L241.3 486L242.2 484.8L243.1 483.7L244.1 482.7L245.1 481.7L246.3 480.8L247.5 479.8L248.7 478.8L249.8 477.9L251.1 477.1L252.4 476.2L253.9 475.3L255.2 474.3L256.6 473.4L257.7 472.3L258.8 471.2L259.6 469.5L259.9 467.8L259.8 466.2L259.7 464.6ZM277.6 457.2L277.3 458.6L277 460L276.8 461.8L276.9 463.7L277.2 465.3L277.4 466.6L277.9 467.5L278.7 467.5L279 466.4L278.9 465.1L278.8 463.5L278.6 461.8L278.4 460L278.2 458.7L278 457.2ZM302.6 461.5L302.4 463.1L302.1 464.7L301.9 466.4L301.8 468L301.8 469.5L301.8 471L301.9 472.5L301.9 473.8L301.9 475L302 477.2L302.2 479L302.4 480.5L302.6 481.7L303.1 482.5L303.9 482.5L304.2 481.5L304.1 480.3L303.9 478.8L303.8 477L303.7 475L303.7 473.8L303.7 472.5L303.7 471.1L303.7 469.5L303.8 468L303.7 466.4L303.5 464.7L303.3 463.1L303 461.5ZM333.2 428.2L334.3 429.7L335.2 431L335.8 432.3L336.7 434L337.2 435.6L337.4 437L337.4 439.3L337.6 440.9L338.4 441.1L339.1 439.4L339.2 437L338.9 435.2L338.4 433.3L337.4 431.3L336.2 430.2L334.9 429L333.5 427.9ZM325.6 443.7L326 445.4L326.5 447.1L327 448.7L327.6 450.1L328.2 451.3L329 453.4L329.8 455.2L330.4 456.7L331.1 457.6L331.9 457.4L331.8 456.1L331.3 454.6L330.6 452.7L329.8 450.7L329.3 449.3L328.7 447.9L327.8 446.5L326.9 445.1L326 443.6ZM309.4 490L308.9 491.4L308.3 492.9L307.8 494.4L307.5 496L307.2 497.5L306.9 499L306.6 500.5L306.4 502L306.1 503.4L305.8 504.8L305.4 506.5L305 508.3L304.5 510L304.1 511.7L303.7 513.3L303.3 514.7L303 515.9L303.1 516.9L303.9 517.1L304.4 516.3L304.8 515.1L305.2 513.7L305.6 512.1L306.1 510.4L306.5 508.7L307 506.9L307.4 505.2L307.7 503.8L308.1 502.4L308.4 500.9L308.7 499.4L309 497.9L309.3 496.3L309.6 494.8L309.7 493.2L309.7 491.6L309.8 490ZM319.4 475L319.4 476.5L319.3 478L319.2 479.6L319.1 481.2L318.9 482.9L318.8 484.6L318.6 486.3L318.3 487.9L318.1 489.3L318 490.5L318.2 491.5L319 491.5L319.4 490.7L319.7 489.5L319.9 488.1L320.2 486.5L320.4 484.8L320.7 483.1L320.9 481.3L320.9 479.6L320.7 478L320.3 476.4L319.8 474.9ZM268.2 499L267.5 500.7L266.8 502.5L266.1 504.3L265.7 506.1L265.4 507.8L265.1 509.4L264.8 510.7L264.9 511.7L265.7 511.9L266.3 511L266.6 509.7L266.9 508.2L267.3 506.5L267.8 504.7L268 502.8L268.3 500.9L268.6 499.1Z" fill="#4c4c4c" opacity="0.85"/><path d="M285.3 465.6L284.2 465.8L282.8 466.1L281.3 466.8L280 468.1L278.4 469.4L276.9 471L276.1 472L275 473L274 474.1L273.2 475.4L272.4 476.8L271.4 478L270.6 479.4L269.7 480.7L268.8 482L268.1 483.3L267.1 484.5L266.2 485.7L265.3 487L264.3 488.2L263.4 489.5L262.5 490.8L261.5 491.9L260.7 493.1L259.8 494.3L259.1 495.4L258.1 497.3L257 499.1L256 500.8L255.2 502.3L254.6 503.7L254.4 504.8L255.2 505.2L256 504.4L256.8 503.2L257.7 501.7L258.6 500L259.6 498.2L260.9 496.6L261.7 495.6L262.5 494.5L263.4 493.3L264.2 492L265.1 490.8L266.2 489.7L267.1 488.4L268.1 487.2L269 485.9L269.9 484.7L271 483.6L271.9 482.3L272.9 481.1L273.9 479.8L274.8 478.5L275.8 477.3L276.8 476.2L277.6 475.1L278.2 473.9L279.1 473L280.5 471.7L281.9 470.5L283.4 469.7L284.6 468.6L285.3 467.4L285.9 466.4ZM289.7 481.2L289.9 482.5L290.6 483.7L291.6 485.1L292.9 486.4L294.1 487.8L295 489.1L295.9 490.5L296.8 491.9L297.6 493.3L298.3 494.9L299 496.3L299.8 497.8L300.4 499.4L301 501.1L301.7 502.8L302.2 504.3L302.7 505.7L303.2 506.6L303.8 506.4L303.7 505.4L303.4 504L302.9 502.4L302.4 500.6L301.9 498.8L301.2 497.2L300.7 495.6L300 494L299.2 492.5L298.5 490.9L297.8 489.4L297 487.9L296 486.4L294.9 484.8L293.8 483.3L292.6 482L291.5 481.1L290.3 480.8ZM262.1 452.3L260.9 452.5L259.8 453.3L258.6 454.4L257.4 455.8L255.9 457L254.6 458.4L253.1 459.6L252 461L250.7 462.2L249.5 463.7L248.1 465L246.9 466.5L245.7 467.9L244.6 469.1L243.8 470.2L243.3 471.1L243.7 471.5L244.6 470.9L245.6 469.9L246.6 468.7L247.9 467.4L249.2 466L250.5 464.6L251.8 463.3L253 462L254.4 460.9L255.7 459.6L257.2 458.4L258.5 457L260 456L261.2 454.9L262.2 453.9L262.5 452.7ZM256.4 501.9L255.2 502.7L254.3 504.3L253.5 505.8L253.2 507.7L253.3 509L253.7 509L254 507.8L254.5 506.2L255.3 504.9L256.3 503.4L256.6 502.1ZM256.3 502L255.8 503.4L255.9 505.3L256 507L256.3 508.7L256.8 509.6L257.2 509.4L257.2 508.5L257 507L257 505.3L257.1 503.4L256.7 502Z" fill="#6c6c6c" stroke="#3a3a3a" stroke-width="0.6" stroke-linejoin="round"/></g>
</svg>

<!-- Control -->
<div class="t title" id="t1" style="transform:scaleX(1.194);left:147px;top:23px;">Control</div>
<div class="t lbl" id="r1" style="left:137.6px;width:96px;top:65.6px;">ROOT<br>(56%)</div>
<div class="t lbl lblw" id="s1" style="left:138.4px;width:96px;top:153.5px;">SOIL<br>(44%)</div>

<!-- N addition -->
<div class="t title" id="t2" style="transform:scaleX(1.215);left:534px;top:22.6px;">N addition</div>
<div class="t lbl" id="r2" style="left:540px;width:96px;top:63.2px;">ROOT<br>(49%)</div>
<div class="t lbl lblw" id="s2" style="left:541px;width:96px;top:153.9px;">SOIL<br>(51%)</div>
<div class="t blue" id="p2a" style="transform-origin:0 0;transform:scaleX(1.026);left:495.4px;top:245.3px;">P limitation</div>
<div class="t red" id="p2b" style="left:585px;top:245.3px;">(<i>+</i>)</div>
<div class="t blue" id="p2c" style="transform-origin:0 0;transform:scaleX(1.014);left:614.5px;top:245.3px;">AMF colonization</div>
<div class="t red" id="p2d" style="left:750.5px;top:245.3px;">(<i>+</i>)</div>

<!-- Drought -->
<div class="t title" id="t3" style="transform:scaleX(1.173);left:145px;top:332px;">Drought</div>
<div class="t lbl" id="r3" style="left:139.2px;width:96px;top:370px;">ROOT<br>(35%)</div>
<div class="t lbl lblw" id="s3" style="left:140.8px;width:96px;top:460.6px;">SOIL<br>(65%)</div>
<div class="t blue" id="rh" style="left:12.2px;top:375.6px;font-size:17px;transform:scaleX(1.027);transform-origin:0 0;">Rhizodeposition</div>
<div class="t red" id="rp" style="left:89.3px;top:418.9px;opacity:.85;">(<i>+</i>)</div>
<div class="t blue b" id="rt" style="left:98px;top:540.2px;transform:scaleX(1.085);">Root trait adjustment</div>
<div class="t blue" id="rda" style="left:98px;top:564.3px;font-size:17.6px;">RD</div>
<div class="t red" id="rdb" style="left:133.5px;top:564.3px;">(<i>+</i>)</div>
<div class="t blue" id="rdc" style="left:160px;top:564.3px;font-size:17.6px;">SRL</div>
<div class="t red" id="rdd" style="left:198px;top:564.3px;font-size:17.5px;letter-spacing:0.4px;">(<u>-</u>)</div>
<div class="t blue" id="rde" style="left:225.3px;top:564.3px;font-size:17.6px;">SRA</div>
<div class="t red" id="rdf" style="left:266px;top:564.3px;font-size:17.5px;letter-spacing:0.4px;">(<u>-</u>)</div>

<!-- Drought & N -->
<div class="t title" id="t4" style="transform:scaleX(1.173);left:507px;top:332px;">Drought</div>
<div class="t title" id="t4b" style="transform:scaleX(1.04);left:602px;top:332px;">&amp;</div>
<div class="t title" id="t4c" style="transform:scaleX(1.215);left:624.8px;top:332px;">N addition</div>
<div class="t lbl" id="r4" style="left:542.5px;width:96px;top:376.1px;">ROOT<br>(74%)</div>
<div class="t lbl lblw" id="s4" style="left:542.7px;width:96px;top:482.4px;">SOIL<br>(26%)</div>
<div class="t blue b" id="ce" style="left:467.5px;top:552.3px;transform:scaleX(1.058);">Counteractive drought and N effects</div>
</body></html>
